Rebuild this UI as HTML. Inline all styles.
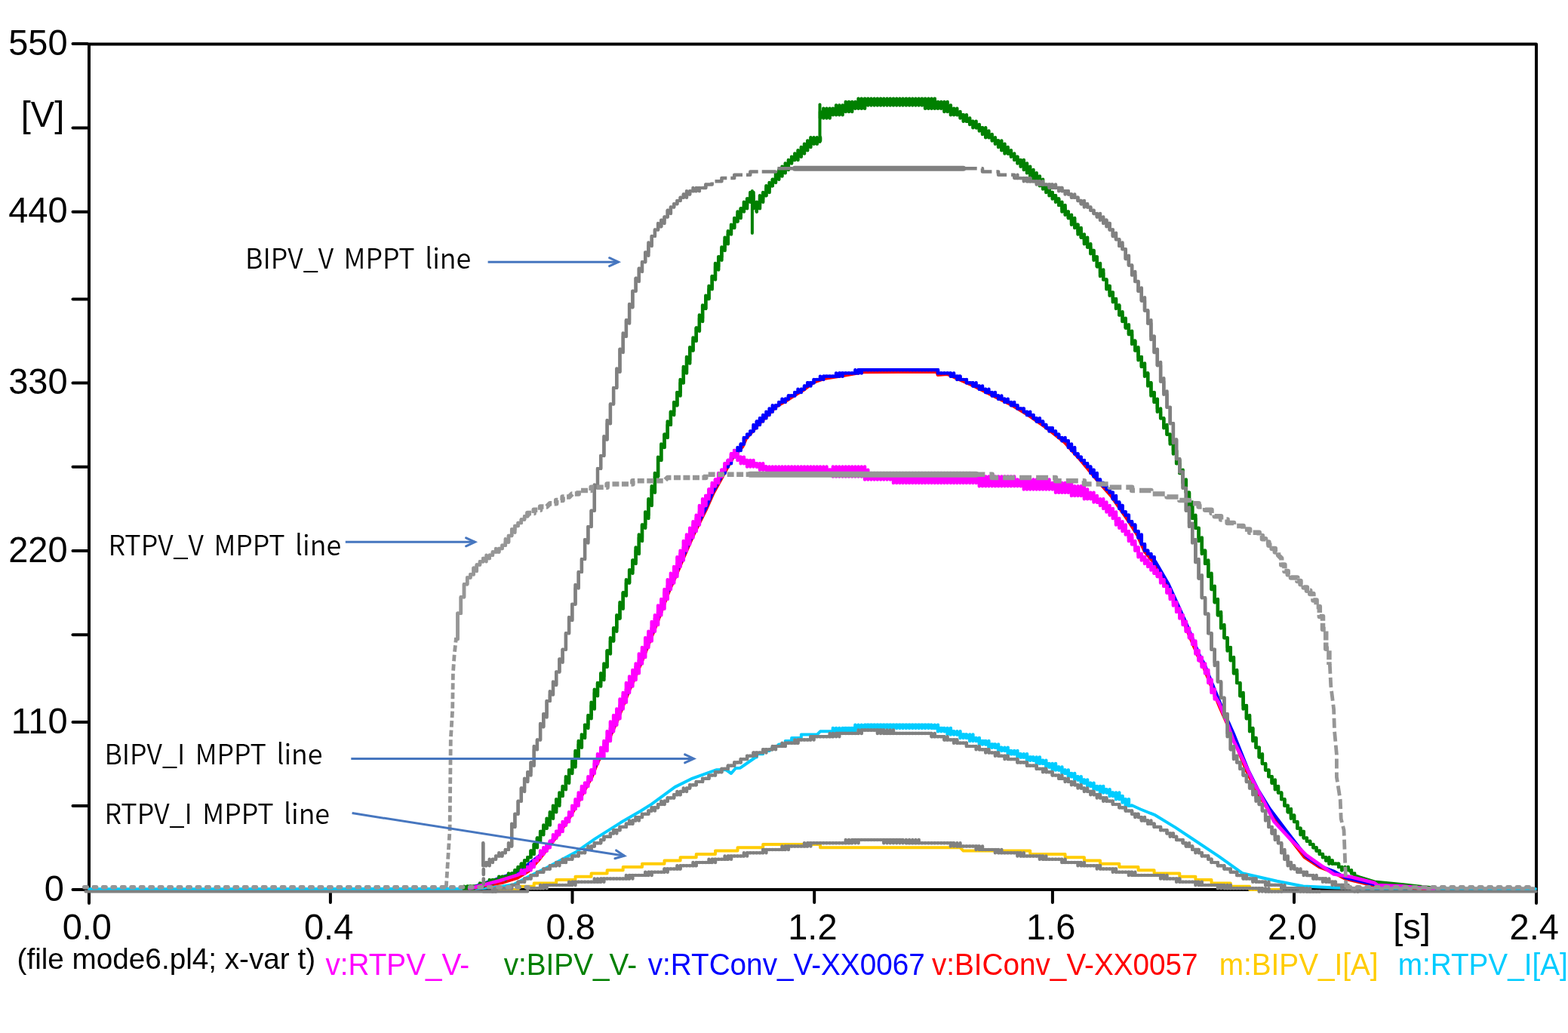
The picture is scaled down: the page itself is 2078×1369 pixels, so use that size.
<!DOCTYPE html>
<html><head><meta charset="utf-8"><title>PlotXY</title>
<style>
html,body{margin:0;padding:0;background:#fff;width:2078px;height:1369px;overflow:hidden}
svg{position:absolute;left:0;top:0;display:block}
text{font-family:"Liberation Sans", Arial, sans-serif}
</style></head><body>
<svg width="2078" height="1369" viewBox="0 0 2078 1369">
<g fill="none">
<path d="M118,1197 V58.5 H2036 V1197" stroke="#000" stroke-width="4" stroke-linecap="round" stroke-linejoin="round"/><line x1="118" y1="1179" x2="2035.5" y2="1179" stroke="#000" stroke-width="4"/><line x1="96.5" y1="58.1" x2="116" y2="58.1" stroke="#000" stroke-width="4" stroke-linecap="round"/><line x1="96.5" y1="169.4" x2="116" y2="169.4" stroke="#000" stroke-width="4" stroke-linecap="round"/><line x1="96.5" y1="280.7" x2="116" y2="280.7" stroke="#000" stroke-width="4" stroke-linecap="round"/><line x1="96.5" y1="396.4" x2="116" y2="396.4" stroke="#000" stroke-width="4" stroke-linecap="round"/><line x1="96.5" y1="507.5" x2="116" y2="507.5" stroke="#000" stroke-width="4" stroke-linecap="round"/><line x1="96.5" y1="618.8" x2="116" y2="618.8" stroke="#000" stroke-width="4" stroke-linecap="round"/><line x1="96.5" y1="730.0" x2="116" y2="730.0" stroke="#000" stroke-width="4" stroke-linecap="round"/><line x1="96.5" y1="841.3" x2="116" y2="841.3" stroke="#000" stroke-width="4" stroke-linecap="round"/><line x1="96.5" y1="956.9" x2="116" y2="956.9" stroke="#000" stroke-width="4" stroke-linecap="round"/><line x1="96.5" y1="1068.0" x2="116" y2="1068.0" stroke="#000" stroke-width="4" stroke-linecap="round"/><line x1="96.5" y1="1179.0" x2="116" y2="1179.0" stroke="#000" stroke-width="4" stroke-linecap="round"/><line x1="437.9" y1="1181" x2="437.9" y2="1196" stroke="#000" stroke-width="4" stroke-linecap="round"/><line x1="758.5" y1="1181" x2="758.5" y2="1196" stroke="#000" stroke-width="4" stroke-linecap="round"/><line x1="1079.2" y1="1181" x2="1079.2" y2="1196" stroke="#000" stroke-width="4" stroke-linecap="round"/><line x1="1394.9" y1="1181" x2="1394.9" y2="1196" stroke="#000" stroke-width="4" stroke-linecap="round"/><line x1="1715.0" y1="1181" x2="1715.0" y2="1196" stroke="#000" stroke-width="4" stroke-linecap="round"/>
</g>
<g fill="none" stroke-linejoin="round" stroke-linecap="round">
<polyline points="118.0,1178.3 627.4,1178.0 641.6,1176.8 666.6,1174.5 681.1,1172.1 695.5,1164.4 724.4,1150.0 764.5,1128.4 788.6,1111.6 822.7,1090.1 848.7,1075.0 863.6,1065.6 894.3,1043.1 916.1,1032.2 949.8,1020.2 962.0,1020.0 969.0,1025.0 975.0,1018.0 981.1,1017.7 1000.0,1004.5" stroke="#00ccff" stroke-width="4" />
<polyline points="998.5,1003.5 1002.8,1003.5 1002.8,999.3 1011.2,999.3 1011.2,995.0 1019.6,995.0 1023.8,990.7 1028.0,990.7 1032.3,986.4 1040.7,986.4 1040.7,982.1 1049.1,982.1 1049.1,977.9 1061.8,977.9 1061.8,973.6 1082.8,973.6 1087.0,969.3 1116.6,969.3 1116.6,965.0 1146.1,965.0 1146.1,960.8 1234.6,960.8 1234.6,965.0 1251.4,965.0 1251.4,969.3 1264.1,969.3 1268.3,973.6 1280.9,973.6 1280.9,977.9 1293.6,977.9 1293.6,982.1 1306.2,982.1 1306.2,986.4 1318.9,986.4 1318.9,990.7 1327.3,990.7 1331.5,995.0 1339.9,995.0 1339.9,999.3 1352.6,999.3 1352.6,1003.5 1369.5,1003.5 1369.5,1007.8 1382.1,1007.8 1382.1,1012.1 1390.5,1012.1 1390.5,1016.4 1403.2,1016.4 1403.2,1020.6 1411.6,1020.6 1411.6,1024.9 1420.0,1024.9 1420.0,1029.2 1428.5,1029.2 1428.5,1033.5 1436.9,1033.5 1436.9,1037.8 1445.3,1037.8 1445.3,1042.0 1453.8,1042.0 1453.8,1046.3 1466.4,1046.3 1466.4,1050.6 1474.8,1050.6 1474.8,1054.9 1487.5,1054.9 1487.5,1059.2 1491.7,1059.2 1491.7,1063.4 1495.9,1063.4 1495.9,1067.7 1500.1,1067.7" stroke="#00ccff" stroke-width="4" />
<polyline points="1500.0,1067.3 1511.5,1072.5 1530.8,1080.2 1557.7,1096.6 1580.8,1112.0 1615.5,1135.1 1646.3,1157.2 1692.5,1167.8 1727.1,1174.5 1769.5,1176.5 1800.0,1177.5 2035.0,1178.0" stroke="#00ccff" stroke-width="4" />
<path d="M1103.9,965.0V969.3M1108.1,965.0V969.3M1112.3,965.0V969.3M1116.6,965.0V969.3M1120.8,965.0V969.3M1125.0,965.0V969.3M1129.2,965.0V969.3M1133.4,960.8V969.3M1137.6,960.8V965.0M1141.8,960.8V965.0M1146.1,960.8V965.0M1150.3,960.8V965.0M1154.5,960.8V965.0M1158.7,960.8V965.0M1162.9,960.8V965.0M1167.1,960.8V965.0M1171.3,960.8V965.0M1175.6,960.8V965.0M1179.8,960.8V965.0M1184.0,960.8V965.0M1188.2,960.8V965.0M1192.4,960.8V965.0M1196.6,960.8V965.0M1200.9,960.8V965.0M1205.1,960.8V965.0M1209.3,960.8V965.0M1213.5,960.8V965.0M1217.7,960.8V965.0M1221.9,960.8V965.0M1226.1,960.8V965.0M1230.4,960.8V965.0M1234.6,960.8V965.0M1238.8,960.8V965.0M1243.0,960.8V969.3M1247.2,965.0V969.3M1251.4,965.0V969.3M1255.6,965.0V973.6M1259.9,965.0V973.6M1264.1,969.3V973.6M1268.3,969.3V973.6M1272.5,969.3V977.9M1276.7,973.6V977.9M1280.9,973.6V977.9M1285.2,973.6V982.1M1289.4,973.6V982.1M1293.6,977.9V982.1M1297.8,977.9V986.4M1302.0,982.1V986.4M1306.2,982.1V986.4M1310.4,982.1V990.7M1314.7,986.4V990.7M1318.9,986.4V990.7M1323.1,986.4V995.0M1327.3,990.7V995.0M1331.5,990.7V995.0M1335.7,990.7V999.3M1339.9,995.0V999.3M1344.2,995.0V999.3M1348.4,995.0V1003.5M1352.6,999.3V1003.5M1356.8,999.3V1003.5M1361.0,999.3V1007.8M1365.2,1003.5V1007.8M1369.5,1003.5V1007.8M1373.7,1003.5V1012.1M1377.9,1003.5V1012.1M1382.1,1007.8V1012.1M1386.3,1007.8V1016.4M1390.5,1012.1V1016.4M1394.7,1012.1V1020.6M1399.0,1012.1V1020.6M1403.2,1016.4V1020.6M1407.4,1016.4V1024.9M1411.6,1020.6V1024.9M1415.8,1020.6V1029.2M1420.0,1024.9V1029.2M1424.2,1024.9V1033.5M1428.5,1029.2V1033.5M1432.7,1029.2V1037.8M1436.9,1033.5V1037.8M1441.1,1033.5V1042.0M1445.3,1037.8V1042.0M1449.5,1037.8V1046.3M1453.8,1042.0V1046.3M1458.0,1042.0V1050.6M1462.2,1042.0V1050.6M1466.4,1046.3V1050.6M1470.6,1046.3V1054.9M1474.8,1050.6V1054.9M1479.0,1050.6V1059.2M1483.3,1050.6V1059.2M1487.5,1054.9V1063.4M1491.7,1059.2V1067.7M1495.9,1059.2V1067.7" stroke="#00ccff" stroke-width="4.5"/>
<polyline points="661.3,1178.9 686.6,1178.9 686.6,1174.7 707.7,1174.7 707.7,1170.4 737.2,1170.4 737.2,1166.1 762.5,1166.1 762.5,1161.8 783.6,1161.8 783.6,1157.5 804.6,1157.5 804.6,1153.3 825.7,1153.3 825.7,1149.0 851.0,1149.0 851.0,1144.7 880.5,1144.7 880.5,1140.4 901.6,1140.4 901.6,1136.2 922.7,1136.2 922.7,1131.9 948.0,1131.9 948.0,1127.6 977.5,1127.6 977.5,1123.3 1011.2,1123.3 1011.2,1119.0 1087.0,1119.0 1087.0,1123.3 1272.5,1123.3 1276.7,1127.6 1365.2,1127.6 1365.2,1131.9 1411.6,1131.9 1411.6,1136.2 1436.9,1136.2 1436.9,1140.4 1458.0,1140.4 1458.0,1144.7 1483.3,1144.7 1483.3,1149.0 1508.5,1149.0 1508.5,1153.3 1529.6,1153.3 1529.6,1157.5 1563.3,1157.5 1563.3,1161.8 1584.4,1161.8 1584.4,1166.1 1605.5,1166.1 1605.5,1170.4 1630.8,1170.4 1630.8,1174.7 1656.1,1174.7 1656.1,1178.9 1698.2,1178.9" stroke="#ffcc00" stroke-width="4" />
<polyline points="630.0,1176.5 647.4,1173.1 666.6,1169.7 685.9,1163.5 700.3,1154.8 714.0,1140.0 728.5,1121.0 740.5,1105.0 752.5,1088.0 764.5,1067.0 774.5,1048.0 784.5,1030.0 791.5,1012.0 800.5,994.0 808.5,977.0 817.5,957.0 826.5,934.0 834.5,914.0 843.5,894.0 853.5,870.0 862.5,847.0 870.5,827.0 879.5,803.0 887.5,782.0 896.5,762.0 904.5,743.0 913.5,722.0 921.5,704.3 935.9,675.4 945.5,653.7 957.5,632.1 972.0,605.6 984.4,592.0 988.8,581.6 1005.6,562.3 1029.7,538.2 1040.5,532.2 1052.5,524.6 1064.5,517.3 1079.0,506.5 1093.4,501.7 1117.5,498.1 1144.0,493.3 1241.4,492.8 1242.6,496.9 1255.3,495.9 1268.5,501.9 1290.1,511.5 1314.2,523.6 1338.3,535.6 1362.3,550.0 1386.4,566.9 1410.5,586.1 1432.1,610.2 1456.2,639.1 1473.0,658.3 1494.7,689.6 1507.1,709.3 1516.7,730.9 1528.8,745.4 1545.6,774.2 1557.7,800.7 1569.7,827.2 1581.7,856.1 1588.0,871.0 1593.7,881.0 1603.4,905.6 1616.8,938.4 1632.2,973.0 1651.5,1021.1 1665.0,1048.1 1680.4,1073.1 1701.5,1101.0 1728.5,1136.0 1749.0,1149.5 1766.7,1156.1 1782.1,1164.6 1820.6,1173.8 1870.6,1176.9 1889.0,1178.5" stroke="#ff0000" stroke-width="4" />
<polyline points="618.0,1177.5 627.0,1175.4 660.0,1164.6 683.2,1156.6 697.0,1148.0 704.0,1142.3 714.0,1135.0 728.0,1119.0 740.0,1103.0 752.0,1086.0 764.0,1065.0 774.0,1046.0 784.0,1028.0 791.0,1010.0 800.0,992.0 808.0,975.0 817.0,955.0 826.0,932.0 834.0,912.0 843.0,892.0 853.0,868.0 862.0,845.0 870.0,825.0 879.0,801.0 887.0,780.0 896.0,760.0 904.0,741.0 913.0,720.0 921.0,702.3 935.4,673.4 945.0,651.7 957.0,630.1 960.0,624.6" stroke="#0000ff" stroke-width="4.2" />
<polyline points="960.6,622.8 960.6,618.5 964.8,618.5 964.8,614.2 969.0,610.0 969.0,605.7 973.2,605.7 973.2,601.4 981.7,592.9 981.7,588.6 985.9,588.6 985.9,580.0 990.1,580.0 990.1,575.7 994.3,575.7 994.3,571.5 998.5,571.5 998.5,567.2 1002.8,567.2 1002.8,558.6 1007.0,558.6 1007.0,554.3 1011.2,554.3 1028.0,537.2 1032.3,537.2 1032.3,533.0 1036.5,533.0 1040.7,528.7 1044.9,528.7 1044.9,524.4 1053.3,524.4 1053.3,520.1 1057.5,520.1 1061.8,515.8 1066.0,515.8 1066.0,511.6 1070.2,511.6 1070.2,507.3 1078.6,507.3 1078.6,503.0 1087.0,503.0 1091.3,498.7 1112.3,498.7 1112.3,494.5 1137.6,494.5 1137.6,490.2 1243.0,490.2 1243.0,494.5 1259.9,494.5 1259.9,498.7 1272.5,498.7 1272.5,503.0 1280.9,503.0 1280.9,507.3 1289.4,507.3 1289.4,511.6 1297.8,511.6 1297.8,515.8 1306.2,515.8 1306.2,520.1 1314.7,520.1 1314.7,524.4 1323.1,524.4 1323.1,528.7 1331.5,528.7 1331.5,533.0 1339.9,533.0 1339.9,537.2 1348.4,537.2 1348.4,541.5 1356.8,541.5 1356.8,545.8 1361.0,545.8 1361.0,550.1 1369.5,550.1 1369.5,554.3 1373.7,554.3 1373.7,558.6 1382.1,558.6 1382.1,562.9 1386.3,562.9 1386.3,567.2 1394.7,567.2 1394.7,571.5 1399.0,571.5 1399.0,575.7 1403.2,575.7 1403.2,580.0 1407.4,580.0 1411.6,584.3 1415.8,584.3 1415.8,588.6 1420.0,592.9 1420.0,597.1 1424.2,597.1 1424.2,601.4 1428.5,601.4 1428.5,605.7 1432.7,605.7 1432.7,610.0 1436.9,610.0 1436.9,614.2 1441.1,614.2 1441.1,618.5 1445.3,618.5 1445.3,622.8 1449.5,622.8 1449.5,631.4 1453.8,631.4 1453.8,635.6 1458.0,635.6 1458.0,639.9 1462.2,639.9 1462.2,644.2 1466.4,644.2 1466.4,648.5 1470.6,648.5 1470.6,652.7 1474.8,652.7 1474.8,661.3 1479.0,661.3 1479.0,665.6 1483.3,665.6 1483.3,669.9 1487.5,669.9 1487.5,678.4 1491.7,678.4 1491.7,682.7 1495.9,682.7 1495.9,691.2 1500.1,691.2 1500.1,695.5 1504.3,695.5 1504.3,704.1 1508.5,704.1 1508.5,712.6 1512.8,712.6 1512.8,721.2 1517.0,721.2 1517.0,729.7 1521.2,729.7 1521.2,734.0 1525.4,734.0 1525.4,738.3 1529.6,738.3 1529.6,742.6" stroke="#0000ff" stroke-width="4.2" />
<polyline points="1530.0,742.8 1531.3,744.4 1548.1,773.2 1560.2,799.7 1572.2,826.2 1584.2,855.1 1590.5,870.0 1596.2,880.0 1605.9,904.6 1619.3,937.4 1634.7,972.0 1654.0,1020.1 1667.5,1047.1 1682.9,1072.1 1704.0,1100.0 1731.0,1135.0 1750.0,1148.0 1767.7,1154.6 1783.1,1163.1 1821.6,1172.3 1871.6,1175.4 1890.0,1177.0" stroke="#0000ff" stroke-width="4.2" />
<path d="M960.6,618.5V627.1M964.8,610.0V618.5M969.0,605.7V614.2M973.2,597.1V605.7M977.5,592.9V601.4M981.7,588.6V597.1M985.9,580.0V588.6M990.1,575.7V580.0M994.3,571.5V575.7M998.5,562.9V571.5M1002.8,558.6V567.2M1007.0,554.3V562.9M1011.2,550.1V558.6M1015.4,545.8V554.3M1019.6,541.5V550.1M1023.8,537.2V545.8M1028.0,537.2V541.5M1032.3,533.0V537.2M1036.5,528.7V533.0M1040.7,528.7V533.0M1044.9,524.4V528.7M1049.1,524.4V524.4M1053.3,520.1V524.4M1057.5,515.8V520.1M1061.8,515.8V520.1M1066.0,511.6V515.8M1070.2,507.3V511.6M1074.4,507.3V511.6M1078.6,503.0V507.3M1082.8,503.0V503.0M1087.0,498.7V503.0M1091.3,498.7V503.0M1095.5,498.7V498.7M1099.7,498.7V498.7M1103.9,498.7V498.7M1108.1,494.5V498.7M1112.3,494.5V498.7M1116.6,494.5V498.7M1120.8,494.5V494.5M1125.0,494.5V494.5M1129.2,494.5V494.5M1133.4,490.2V494.5M1137.6,490.2V494.5M1141.8,490.2V494.5M1146.1,490.2V490.2M1150.3,490.2V490.2M1154.5,490.2V490.2M1158.7,490.2V490.2M1162.9,490.2V490.2M1167.1,490.2V490.2M1171.3,490.2V490.2M1175.6,490.2V490.2M1179.8,490.2V490.2M1184.0,490.2V490.2M1188.2,490.2V490.2M1192.4,490.2V490.2M1196.6,490.2V490.2M1200.9,490.2V490.2M1205.1,490.2V490.2M1209.3,490.2V490.2M1213.5,490.2V490.2M1217.7,490.2V490.2M1221.9,490.2V490.2M1226.1,490.2V490.2M1230.4,490.2V490.2M1234.6,490.2V490.2M1238.8,490.2V490.2M1243.0,490.2V494.5M1247.2,494.5V494.5M1251.4,494.5V494.5M1255.6,494.5V494.5M1259.9,494.5V498.7M1264.1,494.5V498.7M1268.3,498.7V503.0M1272.5,498.7V503.0M1276.7,503.0V503.0M1280.9,503.0V507.3M1285.2,507.3V507.3M1289.4,507.3V511.6M1293.6,507.3V511.6M1297.8,511.6V515.8M1302.0,511.6V515.8M1306.2,515.8V520.1M1310.4,515.8V520.1M1314.7,520.1V524.4M1318.9,520.1V524.4M1323.1,524.4V528.7M1327.3,524.4V528.7M1331.5,528.7V533.0M1335.7,528.7V533.0M1339.9,533.0V537.2M1344.2,533.0V537.2M1348.4,537.2V541.5M1352.6,541.5V541.5M1356.8,541.5V545.8M1361.0,545.8V550.1M1365.2,545.8V550.1M1369.5,550.1V554.3M1373.7,554.3V558.6M1377.9,554.3V558.6M1382.1,558.6V562.9M1386.3,562.9V567.2M1390.5,567.2V571.5M1394.7,567.2V571.5M1399.0,571.5V575.7M1403.2,575.7V580.0M1407.4,580.0V584.3M1411.6,580.0V584.3M1415.8,584.3V592.9M1420.0,588.6V597.1M1424.2,592.9V601.4M1428.5,601.4V605.7M1432.7,605.7V610.0M1436.9,610.0V614.2M1441.1,614.2V618.5M1445.3,618.5V627.1M1449.5,622.8V631.4M1453.8,627.1V635.6M1458.0,635.6V639.9M1462.2,639.9V644.2M1466.4,644.2V648.5M1470.6,648.5V652.7M1474.8,652.7V661.3M1479.0,657.0V665.6M1483.3,665.6V674.1M1487.5,669.9V678.4M1491.7,678.4V682.7M1495.9,682.7V691.2M1500.1,691.2V695.5M1504.3,695.5V704.1M1508.5,704.1V712.6M1512.8,708.4V721.2M1517.0,721.2V729.7M1521.2,729.7V734.0M1525.4,734.0V738.3M1529.6,738.3V746.9" stroke="#0000ff" stroke-width="4.5"/>
<polyline points="615.0,1178.9 619.2,1178.9 619.2,1174.7 640.3,1174.7 640.3,1170.4 652.9,1170.4 652.9,1166.1 665.5,1166.1 665.5,1161.8 674.0,1161.8 678.2,1157.5 682.4,1157.5 682.4,1153.3 686.6,1153.3 686.6,1149.0 690.8,1149.0 690.8,1144.7 695.1,1144.7 695.1,1140.4 699.3,1140.4 699.3,1136.2 703.5,1136.2 703.5,1127.6 707.7,1127.6 707.7,1119.0 711.9,1119.0 711.9,1110.5 716.1,1110.5 716.1,1101.9 720.3,1101.9 720.3,1097.7 724.6,1097.7 724.6,1089.1 728.8,1089.1 728.8,1080.5 733.0,1080.5 733.0,1072.0 737.2,1072.0 737.2,1063.4 741.4,1063.4 741.4,1054.9 745.6,1054.9 745.6,1046.3 749.9,1042.0 749.9,1033.5 754.1,1033.5 754.1,1020.6 758.3,1020.6 758.3,1012.1 762.5,1012.1 762.5,999.3 766.7,999.3 766.7,986.4 770.9,986.4 770.9,977.9 775.1,973.6 775.1,960.8 779.4,960.8 779.4,952.2 783.6,947.9 783.6,935.1 787.8,935.1 787.8,918.0 792.0,918.0 792.0,905.1 796.2,905.1 796.2,896.6 800.4,896.6 800.4,883.8 804.6,883.8 804.6,862.4 808.9,862.4 808.9,849.5 813.1,849.5 813.1,832.4 817.3,832.4 817.3,819.6 821.5,819.6 821.5,802.5 825.7,802.5 825.7,785.4 829.9,785.4 829.9,772.5 834.1,772.5 834.1,755.4 838.4,755.4 838.4,742.6 842.6,742.6 842.6,729.7 846.8,729.7 846.8,712.6 851.0,712.6 851.0,695.5 855.2,695.5 855.2,682.7 859.4,682.7 859.4,665.6 863.7,665.6 863.7,648.5 867.9,648.5 867.9,631.4 872.1,631.4 872.1,610.0 876.3,610.0 876.3,592.9 880.5,592.9 880.5,575.7 884.7,575.7 884.7,562.9 888.9,562.9 888.9,545.8 893.2,545.8 893.2,537.2 897.4,537.2 897.4,520.1 901.6,520.1 901.6,507.3 905.8,507.3 905.8,490.2 910.0,490.2 910.0,477.3 914.2,477.3 914.2,464.5 918.5,464.5 918.5,451.7 922.7,451.7 922.7,434.6 926.9,434.6 926.9,421.7 931.1,421.7 931.1,408.9 935.3,408.9 935.3,396.1 939.5,396.1 939.5,383.2 943.7,378.9 943.7,366.1 948.0,366.1 948.0,353.3 952.2,353.3 952.2,340.4 956.4,340.4 956.4,331.9 960.6,327.6 960.6,319.1 964.8,319.1 964.8,310.5 969.0,306.2 969.0,301.9 973.2,301.9 973.2,293.4 977.5,293.4 977.5,284.8 981.7,284.8 981.7,276.3 985.9,276.3 985.9,272.0 990.1,272.0 990.1,263.4 994.3,263.4 994.3,259.2 998.5,259.2 998.5,272.0 1002.8,272.0 1002.8,280.6 1002.8,272.0 1007.0,272.0 1007.0,263.4 1011.2,263.4 1011.2,259.2 1015.4,259.2 1015.4,250.6 1019.6,250.6 1019.6,246.3 1023.8,246.3 1023.8,237.8 1028.0,237.8 1028.0,233.5 1032.3,233.5 1032.3,229.2 1036.5,229.2 1036.5,224.9 1040.7,224.9 1040.7,220.7 1044.9,220.7 1044.9,216.4 1049.1,212.1 1053.3,212.1 1053.3,207.8 1057.5,207.8 1057.5,203.6 1061.8,203.6 1061.8,199.3 1066.0,199.3 1066.0,195.0 1070.2,195.0 1070.2,190.7 1074.4,190.7 1074.4,186.4 1087.0,186.4 1087.0,182.2" stroke="#008000" stroke-width="4.2" />
<path d="M615.0,1174.7V1178.9M619.2,1174.7V1178.9M623.4,1174.7V1178.9M627.6,1174.7V1178.9M631.8,1174.7V1174.7M636.0,1170.4V1174.7M640.3,1170.4V1174.7M644.5,1170.4V1170.4M648.7,1166.1V1170.4M652.9,1166.1V1170.4M657.1,1166.1V1166.1M661.3,1161.8V1166.1M665.5,1161.8V1166.1M669.8,1161.8V1166.1M674.0,1157.5V1161.8M678.2,1157.5V1161.8M682.4,1153.3V1157.5M686.6,1149.0V1153.3M690.8,1144.7V1149.0M695.1,1140.4V1149.0M699.3,1136.2V1140.4M703.5,1127.6V1136.2M707.7,1119.0V1131.9M711.9,1110.5V1123.3M716.1,1101.9V1114.8M720.3,1093.4V1106.2M724.6,1084.8V1097.7M728.8,1076.3V1093.4M733.0,1067.7V1084.8M737.2,1059.2V1076.3M741.4,1050.6V1067.7M745.6,1042.0V1054.9M749.9,1029.2V1046.3M754.1,1020.6V1037.8M758.3,1007.8V1024.9M762.5,995.0V1016.4M766.7,982.1V1003.5M770.9,973.6V990.7M775.1,960.8V977.9M779.4,947.9V965.0M783.6,930.8V952.2M787.8,913.7V939.4M792.0,905.1V922.3M796.2,892.3V909.4M800.4,879.5V900.9M804.6,862.4V883.8M808.9,845.3V866.6M813.1,832.4V849.5M817.3,815.3V836.7M821.5,798.2V819.6M825.7,785.4V806.8M829.9,768.2V789.6M834.1,755.4V772.5M838.4,742.6V759.7M842.6,725.5V746.9M846.8,708.4V734.0M851.0,695.5V716.9M855.2,678.4V699.8M859.4,661.3V687.0M863.7,644.2V669.9M867.9,627.1V652.7M872.1,605.7V631.4M876.3,588.6V610.0M880.5,575.7V592.9M884.7,558.6V580.0M888.9,545.8V562.9M893.2,533.0V550.1M897.4,520.1V537.2M901.6,503.0V524.4M905.8,485.9V507.3M910.0,473.1V494.5M914.2,460.2V481.6M918.5,447.4V464.5M922.7,434.6V451.7M926.9,417.5V438.8M931.1,404.6V426.0M935.3,391.8V408.9M939.5,378.9V396.1M943.7,366.1V383.2M948.0,349.0V370.4M952.2,340.4V357.6M956.4,327.6V344.7M960.6,314.8V331.9M964.8,306.2V323.3M969.0,297.7V310.5M973.2,289.1V301.9M977.5,280.6V293.4M981.7,276.3V289.1M985.9,267.7V280.6M990.1,263.4V276.3M994.3,254.9V267.7M998.5,254.9V276.3M1002.8,267.7V280.6M1007.0,259.2V276.3M1011.2,254.9V267.7M1015.4,246.3V259.2M1019.6,242.1V254.9M1023.8,237.8V246.3M1028.0,229.2V242.1M1032.3,224.9V237.8M1036.5,220.7V233.5M1040.7,216.4V229.2M1044.9,212.1V224.9M1049.1,207.8V216.4M1053.3,203.6V212.1M1057.5,199.3V212.1M1061.8,195.0V207.8M1066.0,190.7V203.6M1070.2,186.4V199.3M1074.4,182.2V195.0M1078.6,182.2V190.7M1082.8,182.2V190.7M1087.0,182.2V186.4" stroke="#008000" stroke-width="4.5"/>
<polyline points="1087.0,152.2 1095.5,152.2 1095.5,147.9 1112.3,147.9 1112.3,143.7 1125.0,143.7 1125.0,139.4 1141.8,139.4 1141.8,135.1 1234.6,135.1 1234.6,139.4 1251.4,139.4 1251.4,143.7 1259.9,143.7 1259.9,147.9 1268.3,147.9 1268.3,152.2 1276.7,152.2 1276.7,156.5 1280.9,156.5 1280.9,160.8 1289.4,160.8 1289.4,165.0 1293.6,165.0 1293.6,169.3 1302.0,169.3 1302.0,173.6 1306.2,173.6 1306.2,177.9 1310.4,177.9 1310.4,182.2 1314.7,182.2 1318.9,186.4 1323.1,186.4 1323.1,190.7 1327.3,190.7 1327.3,195.0 1331.5,195.0 1331.5,199.3 1335.7,199.3 1335.7,203.6 1339.9,203.6 1344.2,207.8 1348.4,207.8 1348.4,212.1 1352.6,212.1 1352.6,216.4 1356.8,216.4 1356.8,220.7 1361.0,220.7 1361.0,224.9 1365.2,224.9 1365.2,229.2 1369.5,229.2 1369.5,233.5 1373.7,233.5 1373.7,237.8 1377.9,237.8 1377.9,242.1 1382.1,242.1 1382.1,246.3 1386.3,246.3 1386.3,250.6 1390.5,250.6 1390.5,254.9 1394.7,254.9 1394.7,259.2 1399.0,259.2 1399.0,263.4 1403.2,263.4 1403.2,272.0 1407.4,272.0 1407.4,276.3 1411.6,276.3 1411.6,280.6 1415.8,280.6 1415.8,289.1 1420.0,289.1 1420.0,293.4 1424.2,293.4 1424.2,297.7 1428.5,297.7 1428.5,306.2 1432.7,306.2 1432.7,314.8 1436.9,314.8 1436.9,319.1 1441.1,319.1 1441.1,327.6 1445.3,327.6 1445.3,331.9 1449.5,331.9 1449.5,340.4 1453.8,340.4 1453.8,353.3 1458.0,353.3 1458.0,361.8 1462.2,361.8 1462.2,370.4 1466.4,370.4 1466.4,378.9 1470.6,378.9 1470.6,387.5 1474.8,387.5 1474.8,396.1 1479.0,396.1 1479.0,404.6 1483.3,404.6 1483.3,417.5 1487.5,417.5 1487.5,426.0 1491.7,426.0 1491.7,434.6 1495.9,434.6 1495.9,443.1 1500.1,443.1 1500.1,451.7 1504.3,451.7 1504.3,464.5 1508.5,464.5 1508.5,473.1 1512.8,473.1 1512.8,485.9 1517.0,485.9 1517.0,494.5 1521.2,494.5 1521.2,507.3 1525.4,507.3 1525.4,520.1 1529.6,520.1 1529.6,533.0 1533.8,533.0 1533.8,541.5 1538.1,545.8 1538.1,554.3 1542.3,554.3 1542.3,562.9 1546.5,567.2 1546.5,575.7 1550.7,575.7 1550.7,584.3 1554.9,588.6 1554.9,597.1 1559.1,597.1 1559.1,614.2 1563.3,614.2 1563.3,627.1 1567.6,627.1 1567.6,639.9 1571.8,639.9 1571.8,652.7 1576.0,652.7 1576.0,669.9 1580.2,669.9 1580.2,687.0 1584.4,687.0 1584.4,699.8 1588.6,699.8 1588.6,712.6 1592.8,716.9 1592.8,729.7 1597.1,729.7 1597.1,746.9 1601.3,746.9 1601.3,764.0 1605.5,764.0 1605.5,781.1 1609.7,781.1 1609.7,798.2 1613.9,798.2 1613.9,815.3 1618.1,815.3 1618.1,828.1 1622.4,832.4 1622.4,845.3 1626.6,845.3 1626.6,858.1 1630.8,858.1 1630.8,875.2 1635.0,875.2 1635.0,892.3 1639.2,892.3 1639.2,905.1 1643.4,905.1 1643.4,922.3 1647.6,922.3 1647.6,935.1 1651.9,935.1 1651.9,952.2 1656.1,952.2 1656.1,965.0 1660.3,965.0 1660.3,977.9 1664.5,977.9 1664.5,990.7 1668.7,990.7 1668.7,1003.5 1672.9,1003.5 1672.9,1012.1 1677.1,1012.1 1677.1,1020.6 1681.4,1020.6 1681.4,1029.2 1685.6,1029.2 1685.6,1037.8 1689.8,1037.8 1689.8,1042.0 1694.0,1042.0 1694.0,1050.6 1698.2,1050.6 1698.2,1059.2 1702.4,1059.2 1702.4,1067.7 1706.7,1067.7 1706.7,1076.3 1710.9,1076.3 1710.9,1080.5 1715.1,1080.5 1715.1,1089.1 1719.3,1089.1 1719.3,1097.7 1723.5,1097.7 1723.5,1101.9 1727.7,1101.9 1727.7,1110.5 1731.9,1110.5 1731.9,1114.8 1736.2,1114.8 1736.2,1119.0 1740.4,1119.0 1740.4,1123.3 1744.6,1123.3 1744.6,1127.6 1748.8,1127.6 1748.8,1131.9 1753.0,1131.9 1753.0,1136.2 1757.2,1136.2 1757.2,1140.4 1765.7,1140.4 1765.7,1144.7 1774.1,1144.7 1774.1,1149.0 1778.3,1149.0 1778.3,1153.3" stroke="#008000" stroke-width="4.2" />
<polyline points="1780.0,1151.7 1786.9,1152.3 1796.2,1160.8 1821.6,1168.5 1860.0,1172.3 1880.0,1174.5 1895.0,1176.0" stroke="#008000" stroke-width="4.2" />
<path d="M1087.0,147.9V156.5M1091.3,143.7V156.5M1095.5,143.7V156.5M1099.7,143.7V156.5M1103.9,143.7V152.2M1108.1,139.4V152.2M1112.3,139.4V152.2M1116.6,139.4V152.2M1120.8,135.1V147.9M1125.0,135.1V147.9M1129.2,135.1V147.9M1133.4,135.1V143.7M1137.6,130.8V143.7M1141.8,130.8V143.7M1146.1,130.8V143.7M1150.3,130.8V139.4M1154.5,130.8V139.4M1158.7,130.8V139.4M1162.9,130.8V139.4M1167.1,130.8V139.4M1171.3,130.8V139.4M1175.6,130.8V139.4M1179.8,130.8V139.4M1184.0,130.8V139.4M1188.2,130.8V139.4M1192.4,130.8V139.4M1196.6,130.8V139.4M1200.9,130.8V139.4M1205.1,130.8V139.4M1209.3,130.8V139.4M1213.5,130.8V139.4M1217.7,130.8V139.4M1221.9,130.8V139.4M1226.1,130.8V143.7M1230.4,130.8V143.7M1234.6,130.8V143.7M1238.8,130.8V143.7M1243.0,135.1V143.7M1247.2,135.1V143.7M1251.4,135.1V147.9M1255.6,135.1V147.9M1259.9,139.4V152.2M1264.1,143.7V152.2M1268.3,143.7V152.2M1272.5,147.9V156.5M1276.7,152.2V160.8M1280.9,152.2V160.8M1285.2,156.5V165.0M1289.4,160.8V169.3M1293.6,160.8V169.3M1297.8,165.0V173.6M1302.0,169.3V177.9M1306.2,169.3V182.2M1310.4,173.6V182.2M1314.7,177.9V186.4M1318.9,182.2V190.7M1323.1,186.4V195.0M1327.3,186.4V199.3M1331.5,190.7V203.6M1335.7,195.0V203.6M1339.9,199.3V207.8M1344.2,203.6V212.1M1348.4,207.8V216.4M1352.6,212.1V220.7M1356.8,212.1V224.9M1361.0,216.4V229.2M1365.2,220.7V233.5M1369.5,224.9V237.8M1373.7,229.2V242.1M1377.9,233.5V246.3M1382.1,237.8V250.6M1386.3,246.3V254.9M1390.5,250.6V259.2M1394.7,254.9V263.4M1399.0,259.2V267.7M1403.2,263.4V272.0M1407.4,267.7V280.6M1411.6,272.0V284.8M1415.8,280.6V289.1M1420.0,284.8V297.7M1424.2,289.1V301.9M1428.5,297.7V310.5M1432.7,301.9V314.8M1436.9,310.5V323.3M1441.1,314.8V327.6M1445.3,323.3V336.2M1449.5,331.9V344.7M1453.8,340.4V353.3M1458.0,349.0V366.1M1462.2,357.6V370.4M1466.4,370.4V383.2M1470.6,378.9V391.8M1474.8,387.5V400.3M1479.0,396.1V408.9M1483.3,404.6V417.5M1487.5,413.2V426.0M1491.7,421.7V434.6M1495.9,430.3V443.1M1500.1,438.8V456.0M1504.3,451.7V464.5M1508.5,460.2V477.3M1512.8,473.1V485.9M1517.0,481.6V498.7M1521.2,494.5V511.6M1525.4,507.3V524.4M1529.6,520.1V533.0M1533.8,528.7V545.8M1538.1,541.5V554.3M1542.3,554.3V567.2M1546.5,562.9V575.7M1550.7,575.7V588.6M1554.9,584.3V601.4M1559.1,597.1V614.2M1563.3,610.0V627.1M1567.6,622.8V639.9M1571.8,635.6V652.7M1576.0,652.7V669.9M1580.2,665.6V687.0M1584.4,682.7V699.8M1588.6,699.8V716.9M1592.8,712.6V734.0M1597.1,729.7V746.9M1601.3,742.6V764.0M1605.5,759.7V781.1M1609.7,776.8V798.2M1613.9,793.9V815.3M1618.1,811.0V832.4M1622.4,828.1V845.3M1626.6,845.3V862.4M1630.8,858.1V875.2M1635.0,870.9V892.3M1639.2,888.0V905.1M1643.4,905.1V922.3M1647.6,918.0V939.4M1651.9,935.1V952.2M1656.1,947.9V969.3M1660.3,965.0V982.1M1664.5,977.9V990.7M1668.7,990.7V1003.5M1672.9,999.3V1012.1M1677.1,1012.1V1020.6M1681.4,1020.6V1029.2M1685.6,1029.2V1037.8M1689.8,1033.5V1046.3M1694.0,1042.0V1050.6M1698.2,1050.6V1059.2M1702.4,1059.2V1067.7M1706.7,1067.7V1076.3M1710.9,1072.0V1084.8M1715.1,1080.5V1089.1M1719.3,1089.1V1097.7M1723.5,1097.7V1106.2M1727.7,1101.9V1110.5M1731.9,1110.5V1114.8M1736.2,1114.8V1119.0M1740.4,1119.0V1123.3M1744.6,1123.3V1127.6M1748.8,1127.6V1131.9M1753.0,1131.9V1136.2M1757.2,1136.2V1140.4M1761.4,1136.2V1144.7M1765.7,1140.4V1144.7M1769.9,1144.7V1144.7M1774.1,1144.7V1149.0M1778.3,1149.0V1153.3M1782.5,1149.0V1153.3M1786.7,1149.0V1153.3M1791.0,1153.3V1157.5M1795.2,1157.5V1161.8M1799.4,1161.8V1161.8" stroke="#008000" stroke-width="4.5"/>
<polyline points="1086.5,188.0 1086.5,138.5" stroke="#008000" stroke-width="4" />
<polyline points="996.9,309.0 996.9,253.0" stroke="#008000" stroke-width="4" />
<polyline points="622.0,1177.5 628.1,1176.0 661.8,1167.3 685.9,1159.6 690.0,1157.4" stroke="#ff00ff" stroke-width="4.6" />
<polyline points="690.8,1157.5 695.1,1157.5 695.1,1153.3 699.3,1153.3 699.3,1149.0 703.5,1149.0 703.5,1144.7 707.7,1144.7 707.7,1140.4 711.9,1140.4 711.9,1136.2 716.1,1136.2 716.1,1131.9 720.3,1131.9 720.3,1127.6 724.6,1127.6 724.6,1119.0 728.8,1119.0 728.8,1114.8 733.0,1114.8 733.0,1110.5 737.2,1110.5 737.2,1101.9 741.4,1101.9 741.4,1097.7 745.6,1097.7 745.6,1093.4 749.9,1093.4 749.9,1084.8 754.1,1084.8 754.1,1080.5 758.3,1076.3 758.3,1072.0 762.5,1072.0 762.5,1063.4 766.7,1063.4 766.7,1054.9 770.9,1054.9 770.9,1046.3 775.1,1046.3 775.1,1037.8 779.4,1037.8 779.4,1033.5 783.6,1029.2 783.6,1020.6 787.8,1020.6 787.8,1012.1 792.0,1012.1 792.0,1003.5 796.2,1003.5 796.2,995.0 800.4,995.0 800.4,986.4 804.6,986.4 804.6,977.9 808.9,977.9 808.9,965.0 813.1,965.0 813.1,956.5 817.3,956.5 817.3,943.6 821.5,943.6 821.5,935.1 825.7,935.1 825.7,922.3 829.9,922.3 829.9,913.7 834.1,909.4 834.1,905.1 838.4,900.9 838.4,896.6 842.6,892.3 842.6,883.8 846.8,883.8 846.8,875.2 851.0,875.2 851.0,862.4 855.2,862.4 855.2,853.8 859.4,853.8 859.4,841.0 863.7,841.0 863.7,832.4 867.9,832.4 867.9,819.6 872.1,819.6 872.1,811.0 876.3,811.0 876.3,798.2 880.5,798.2 880.5,785.4 884.7,785.4 884.7,776.8 888.9,776.8 888.9,768.2 893.2,768.2 893.2,759.7 897.4,759.7 897.4,746.9 901.6,746.9 901.6,734.0 905.8,734.0 905.8,725.5 910.0,725.5 910.0,712.6 914.2,712.6 914.2,704.1 918.5,704.1 918.5,695.5 922.7,695.5 922.7,687.0 926.9,687.0 926.9,678.4 931.1,678.4 931.1,669.9 935.3,669.9 935.3,657.0 939.5,657.0 939.5,648.5 943.7,648.5 943.7,644.2 948.0,644.2 948.0,635.6 952.2,635.6 952.2,631.4 956.4,631.4 956.4,622.8 960.6,622.8 960.6,614.2 964.8,614.2 964.8,610.0 969.0,610.0 969.0,601.4 977.5,601.4 977.5,605.7 981.7,605.7 981.7,610.0 990.1,610.0 990.1,614.2 1002.8,614.2 1002.8,618.5 1015.4,618.5 1015.4,622.8 1129.2,622.8 1129.2,627.1 1150.3,627.1 1150.3,631.4 1243.0,631.4 1243.0,635.6 1318.9,635.6 1323.1,639.9 1377.9,639.9 1377.9,644.2 1411.6,644.2 1411.6,648.5 1428.5,648.5 1428.5,652.7 1441.1,652.7 1441.1,657.0 1449.5,657.0 1449.5,661.3 1453.8,661.3 1453.8,665.6 1462.2,665.6 1462.2,669.9 1466.4,669.9 1466.4,674.1 1470.6,674.1 1470.6,678.4 1474.8,678.4 1474.8,682.7 1479.0,682.7 1479.0,691.2 1483.3,691.2 1483.3,695.5 1487.5,695.5 1487.5,699.8 1491.7,699.8 1491.7,704.1 1495.9,708.4 1495.9,712.6 1500.1,712.6 1500.1,721.2 1504.3,721.2 1504.3,725.5 1508.5,725.5 1508.5,734.0 1512.8,734.0 1512.8,738.3 1517.0,738.3 1517.0,742.6 1521.2,742.6 1521.2,746.9 1525.4,746.9 1525.4,751.1 1529.6,755.4 1529.6,759.7 1533.8,759.7 1533.8,764.0 1538.1,764.0 1538.1,768.2 1542.3,768.2 1542.3,776.8 1546.5,776.8 1546.5,785.4 1550.7,785.4 1550.7,789.6 1554.9,789.6 1554.9,798.2 1559.1,798.2 1559.1,806.8 1563.3,806.8 1563.3,815.3 1567.6,815.3 1567.6,823.9 1571.8,823.9 1571.8,836.7 1576.0,836.7 1576.0,845.3 1580.2,845.3 1580.2,853.8 1584.4,853.8 1584.4,862.4 1588.6,862.4 1588.6,875.2 1592.8,875.2 1592.8,883.8 1597.1,883.8 1597.1,892.3 1601.3,892.3 1601.3,900.9 1605.5,900.9 1605.5,913.7 1609.7,913.7 1609.7,922.3" stroke="#ff00ff" stroke-width="4.6" />
<polyline points="1610.0,922.5 1615.5,931.6 1625.1,954.7 1634.7,981.6 1646.3,1004.7 1659.8,1033.6 1673.2,1058.6 1688.6,1088.9 1711.7,1113.9 1731.0,1133.1 1750.2,1146.6 1767.7,1158.5 1790.8,1162.3 1821.6,1170.0 1825.4,1173.1 1860.0,1174.6 1900.0,1178.0" stroke="#ff00ff" stroke-width="4.6" />
<path d="M690.8,1153.3V1157.5M695.1,1153.3V1157.5M699.3,1149.0V1153.3M703.5,1144.7V1153.3M707.7,1140.4V1149.0M711.9,1136.2V1140.4M716.1,1127.6V1136.2M720.3,1123.3V1131.9M724.6,1119.0V1127.6M728.8,1114.8V1123.3M733.0,1106.2V1114.8M737.2,1101.9V1110.5M741.4,1093.4V1106.2M745.6,1089.1V1101.9M749.9,1084.8V1093.4M754.1,1076.3V1089.1M758.3,1067.7V1080.5M762.5,1059.2V1072.0M766.7,1050.6V1067.7M770.9,1042.0V1059.2M775.1,1037.8V1050.6M779.4,1029.2V1042.0M783.6,1020.6V1033.5M787.8,1007.8V1024.9M792.0,999.3V1012.1M796.2,990.7V1003.5M800.4,982.1V1003.5M804.6,969.3V995.0M808.9,956.5V982.1M813.1,947.9V969.3M817.3,939.4V960.8M821.5,926.5V952.2M825.7,918.0V939.4M829.9,905.1V930.8M834.1,896.6V918.0M838.4,888.0V909.4M842.6,879.5V900.9M846.8,866.6V892.3M851.0,858.1V879.5M855.2,845.3V870.9M859.4,836.7V858.1M863.7,823.9V849.5M867.9,815.3V836.7M872.1,802.5V828.1M876.3,793.9V815.3M880.5,781.1V806.8M884.7,768.2V793.9M888.9,759.7V781.1M893.2,751.1V772.5M897.4,738.3V764.0M901.6,729.7V751.1M905.8,716.9V742.6M910.0,708.4V729.7M914.2,699.8V721.2M918.5,691.2V712.6M922.7,682.7V704.1M926.9,669.9V695.5M931.1,661.3V682.7M935.3,657.0V669.9M939.5,648.5V661.3M943.7,639.9V652.7M948.0,635.6V644.2M952.2,627.1V639.9M956.4,622.8V631.4M960.6,614.2V622.8M964.8,610.0V614.2M969.0,601.4V610.0M973.2,597.1V605.7M977.5,601.4V610.0M981.7,605.7V614.2M985.9,605.7V614.2M990.1,610.0V618.5M994.3,610.0V618.5M998.5,610.0V618.5M1002.8,614.2V618.5M1007.0,614.2V622.8M1011.2,614.2V622.8M1015.4,618.5V622.8M1019.6,618.5V627.1M1023.8,618.5V627.1M1028.0,618.5V627.1M1032.3,618.5V622.8M1036.5,618.5V622.8M1040.7,618.5V622.8M1044.9,618.5V622.8M1049.1,618.5V622.8M1053.3,618.5V622.8M1057.5,618.5V622.8M1061.8,618.5V622.8M1066.0,618.5V622.8M1070.2,618.5V627.1M1074.4,618.5V627.1M1078.6,618.5V627.1M1082.8,618.5V627.1M1087.0,618.5V627.1M1091.3,618.5V627.1M1095.5,618.5V627.1M1099.7,622.8V627.1M1103.9,618.5V631.4M1108.1,618.5V631.4M1112.3,618.5V631.4M1116.6,618.5V631.4M1120.8,618.5V631.4M1125.0,618.5V631.4M1129.2,618.5V631.4M1133.4,618.5V631.4M1137.6,618.5V631.4M1141.8,618.5V631.4M1146.1,618.5V635.6M1150.3,622.8V635.6M1154.5,627.1V635.6M1158.7,627.1V635.6M1162.9,627.1V635.6M1167.1,627.1V635.6M1171.3,627.1V635.6M1175.6,627.1V635.6M1179.8,627.1V635.6M1184.0,627.1V639.9M1188.2,627.1V639.9M1192.4,627.1V639.9M1196.6,627.1V639.9M1200.9,627.1V639.9M1205.1,627.1V639.9M1209.3,627.1V639.9M1213.5,627.1V639.9M1217.7,627.1V639.9M1221.9,627.1V639.9M1226.1,627.1V639.9M1230.4,627.1V639.9M1234.6,627.1V639.9M1238.8,627.1V639.9M1243.0,627.1V639.9M1247.2,627.1V639.9M1251.4,627.1V639.9M1255.6,627.1V639.9M1259.9,627.1V639.9M1264.1,627.1V639.9M1268.3,627.1V639.9M1272.5,627.1V639.9M1276.7,627.1V639.9M1280.9,627.1V639.9M1285.2,627.1V639.9M1289.4,631.4V639.9M1293.6,631.4V639.9M1297.8,631.4V644.2M1302.0,631.4V644.2M1306.2,631.4V644.2M1310.4,631.4V644.2M1314.7,631.4V644.2M1318.9,631.4V644.2M1323.1,631.4V644.2M1327.3,631.4V644.2M1331.5,631.4V644.2M1335.7,631.4V644.2M1339.9,631.4V644.2M1344.2,631.4V644.2M1348.4,635.6V644.2M1352.6,635.6V644.2M1356.8,635.6V648.5M1361.0,635.6V648.5M1365.2,635.6V648.5M1369.5,635.6V648.5M1373.7,635.6V648.5M1377.9,635.6V648.5M1382.1,635.6V648.5M1386.3,635.6V648.5M1390.5,635.6V648.5M1394.7,639.9V648.5M1399.0,639.9V652.7M1403.2,639.9V652.7M1407.4,639.9V652.7M1411.6,639.9V652.7M1415.8,639.9V652.7M1420.0,639.9V657.0M1424.2,644.2V657.0M1428.5,644.2V657.0M1432.7,644.2V657.0M1436.9,644.2V661.3M1441.1,648.5V661.3M1445.3,652.7V661.3M1449.5,652.7V665.6M1453.8,657.0V665.6M1458.0,661.3V669.9M1462.2,661.3V674.1M1466.4,665.6V678.4M1470.6,669.9V682.7M1474.8,674.1V687.0M1479.0,678.4V695.5M1483.3,687.0V699.8M1487.5,691.2V704.1M1491.7,695.5V708.4M1495.9,704.1V716.9M1500.1,708.4V721.2M1504.3,716.9V729.7M1508.5,725.5V738.3M1512.8,734.0V742.6M1517.0,738.3V746.9M1521.2,742.6V751.1M1525.4,746.9V755.4M1529.6,751.1V759.7M1533.8,755.4V764.0M1538.1,759.7V772.5M1542.3,768.2V776.8M1546.5,776.8V785.4M1550.7,781.1V793.9M1554.9,789.6V802.5M1559.1,798.2V811.0M1563.3,806.8V819.6M1567.6,815.3V828.1M1571.8,823.9V836.7M1576.0,832.4V845.3M1580.2,841.0V853.8M1584.4,849.5V866.6M1588.6,862.4V875.2M1592.8,870.9V883.8M1597.1,879.5V892.3M1601.3,888.0V905.1M1605.5,900.9V918.0M1609.7,913.7V926.5" stroke="#ff00ff" stroke-width="4.5"/>
<polyline points="113.4,1181.5 699.3,1181.5 699.3,1177.2 720.3,1177.2 720.3,1172.9 758.3,1172.9 758.3,1168.7 796.2,1168.7 796.2,1164.4 834.1,1164.4 834.1,1160.1 859.4,1160.1 859.4,1155.8 880.5,1155.8 880.5,1151.6 901.6,1151.6 901.6,1147.3 922.7,1147.3 922.7,1143.0 943.7,1143.0 943.7,1138.7 964.8,1138.7 964.8,1134.4 985.9,1134.4 990.1,1130.2 1011.2,1130.2 1011.2,1125.9 1040.7,1125.9 1040.7,1121.6 1070.2,1121.6 1070.2,1117.3 1129.2,1117.3 1129.2,1113.1 1196.6,1113.1 1200.9,1117.3 1264.1,1117.3 1268.3,1121.6 1297.8,1121.6 1297.8,1125.9 1323.1,1125.9 1323.1,1130.2 1352.6,1130.2 1352.6,1134.4 1382.1,1134.4 1382.1,1138.7 1407.4,1138.7 1407.4,1143.0 1432.7,1143.0 1432.7,1147.3 1458.0,1147.3 1458.0,1151.6 1479.0,1151.6 1479.0,1155.8 1500.1,1155.8 1500.1,1160.1 1542.3,1160.1 1542.3,1164.4 1563.3,1164.4 1563.3,1168.7 1588.6,1168.7 1588.6,1172.9 1622.4,1172.9 1622.4,1177.2 1672.9,1177.2 1677.1,1181.5 2035.4,1181.5" stroke="#808080" stroke-width="4" />
<path d="M703.5,1177.2V1177.2M707.7,1177.2V1177.2M711.9,1177.2V1177.2M716.1,1172.9V1177.2M720.3,1172.9V1177.2M724.6,1172.9V1177.2M728.8,1172.9V1172.9M733.0,1172.9V1172.9M737.2,1172.9V1172.9M741.4,1172.9V1172.9M745.6,1172.9V1172.9M749.9,1172.9V1172.9M754.1,1168.7V1172.9M758.3,1168.7V1172.9M762.5,1168.7V1172.9M766.7,1168.7V1168.7M770.9,1168.7V1168.7M775.1,1168.7V1168.7M779.4,1168.7V1168.7M783.6,1168.7V1168.7M787.8,1164.4V1168.7M792.0,1164.4V1168.7M796.2,1164.4V1168.7M800.4,1164.4V1168.7M804.6,1164.4V1164.4M808.9,1164.4V1164.4M813.1,1164.4V1164.4M817.3,1164.4V1164.4M821.5,1164.4V1164.4M825.7,1164.4V1164.4M829.9,1160.1V1164.4M834.1,1160.1V1164.4M838.4,1160.1V1164.4M842.6,1160.1V1160.1M846.8,1160.1V1160.1M851.0,1160.1V1160.1M855.2,1155.8V1160.1M859.4,1155.8V1160.1M863.7,1155.8V1160.1M867.9,1155.8V1155.8M872.1,1155.8V1155.8M876.3,1155.8V1155.8M880.5,1151.6V1155.8M884.7,1151.6V1155.8M888.9,1151.6V1151.6M893.2,1151.6V1151.6M897.4,1147.3V1151.6M901.6,1147.3V1151.6M905.8,1147.3V1147.3M910.0,1147.3V1147.3M914.2,1147.3V1147.3M918.5,1143.0V1147.3M922.7,1143.0V1147.3M926.9,1143.0V1143.0M931.1,1143.0V1143.0M935.3,1143.0V1143.0M939.5,1138.7V1143.0M943.7,1138.7V1143.0M948.0,1138.7V1143.0M952.2,1138.7V1138.7M956.4,1138.7V1138.7M960.6,1134.4V1138.7M964.8,1134.4V1138.7M969.0,1134.4V1138.7M973.2,1134.4V1134.4M977.5,1134.4V1134.4M981.7,1134.4V1134.4M985.9,1130.2V1134.4M990.1,1130.2V1134.4M994.3,1130.2V1130.2M998.5,1130.2V1130.2M1002.8,1130.2V1130.2M1007.0,1130.2V1130.2M1011.2,1125.9V1130.2M1015.4,1125.9V1130.2M1019.6,1125.9V1125.9M1023.8,1125.9V1125.9M1028.0,1125.9V1125.9M1032.3,1125.9V1125.9M1036.5,1121.6V1125.9M1040.7,1121.6V1125.9M1044.9,1121.6V1125.9M1049.1,1121.6V1121.6M1053.3,1121.6V1121.6M1057.5,1121.6V1121.6M1061.8,1121.6V1121.6M1066.0,1117.3V1121.6M1070.2,1117.3V1121.6M1074.4,1117.3V1121.6M1078.6,1117.3V1117.3M1082.8,1117.3V1117.3M1087.0,1117.3V1117.3M1091.3,1117.3V1117.3M1095.5,1117.3V1117.3M1099.7,1117.3V1117.3M1103.9,1117.3V1117.3M1108.1,1117.3V1117.3M1112.3,1117.3V1117.3M1116.6,1117.3V1117.3M1120.8,1113.1V1117.3M1125.0,1113.1V1117.3M1129.2,1113.1V1117.3M1133.4,1113.1V1117.3M1137.6,1113.1V1117.3M1141.8,1113.1V1113.1M1146.1,1113.1V1113.1M1150.3,1113.1V1113.1M1154.5,1113.1V1113.1M1158.7,1113.1V1113.1M1162.9,1113.1V1113.1M1167.1,1113.1V1113.1M1171.3,1113.1V1117.3M1175.6,1113.1V1117.3M1179.8,1113.1V1117.3M1184.0,1113.1V1117.3M1188.2,1113.1V1117.3M1192.4,1113.1V1117.3M1196.6,1113.1V1117.3M1200.9,1113.1V1117.3M1205.1,1113.1V1117.3M1209.3,1113.1V1117.3M1213.5,1113.1V1117.3M1217.7,1113.1V1117.3M1221.9,1117.3V1117.3M1226.1,1117.3V1117.3M1230.4,1117.3V1117.3M1234.6,1117.3V1117.3M1238.8,1117.3V1117.3M1243.0,1117.3V1117.3M1247.2,1117.3V1117.3M1251.4,1117.3V1117.3M1255.6,1117.3V1117.3M1259.9,1117.3V1121.6M1264.1,1117.3V1121.6M1268.3,1117.3V1121.6M1272.5,1117.3V1121.6M1276.7,1121.6V1121.6M1280.9,1121.6V1121.6M1285.2,1121.6V1121.6M1289.4,1121.6V1121.6M1293.6,1121.6V1125.9M1297.8,1121.6V1125.9M1302.0,1121.6V1125.9M1306.2,1125.9V1125.9M1310.4,1125.9V1125.9M1314.7,1125.9V1125.9M1318.9,1125.9V1130.2M1323.1,1125.9V1130.2M1327.3,1125.9V1130.2M1331.5,1130.2V1130.2M1335.7,1130.2V1130.2M1339.9,1130.2V1130.2M1344.2,1130.2V1130.2M1348.4,1130.2V1134.4M1352.6,1130.2V1134.4M1356.8,1130.2V1134.4M1361.0,1134.4V1134.4M1365.2,1134.4V1134.4M1369.5,1134.4V1134.4M1373.7,1134.4V1134.4M1377.9,1134.4V1138.7M1382.1,1134.4V1138.7M1386.3,1134.4V1138.7M1390.5,1138.7V1138.7M1394.7,1138.7V1138.7M1399.0,1138.7V1138.7M1403.2,1138.7V1138.7M1407.4,1138.7V1143.0M1411.6,1138.7V1143.0M1415.8,1143.0V1143.0M1420.0,1143.0V1143.0M1424.2,1143.0V1143.0M1428.5,1143.0V1147.3M1432.7,1143.0V1147.3M1436.9,1143.0V1147.3M1441.1,1147.3V1147.3M1445.3,1147.3V1147.3M1449.5,1147.3V1147.3M1453.8,1147.3V1151.6M1458.0,1147.3V1151.6M1462.2,1151.6V1151.6M1466.4,1151.6V1151.6M1470.6,1151.6V1151.6M1474.8,1151.6V1155.8M1479.0,1151.6V1155.8M1483.3,1155.8V1155.8M1487.5,1155.8V1155.8M1491.7,1155.8V1155.8M1495.9,1155.8V1160.1M1500.1,1155.8V1160.1M1504.3,1155.8V1160.1M1508.5,1160.1V1160.1M1512.8,1160.1V1160.1M1517.0,1160.1V1160.1M1521.2,1160.1V1160.1M1525.4,1160.1V1160.1M1529.6,1160.1V1160.1M1533.8,1160.1V1160.1M1538.1,1160.1V1164.4M1542.3,1160.1V1164.4M1546.5,1160.1V1164.4M1550.7,1164.4V1164.4M1554.9,1164.4V1164.4M1559.1,1164.4V1168.7M1563.3,1164.4V1168.7M1567.6,1168.7V1168.7M1571.8,1168.7V1168.7M1576.0,1168.7V1168.7M1580.2,1168.7V1168.7M1584.4,1168.7V1172.9M1588.6,1168.7V1172.9M1592.8,1168.7V1172.9M1597.1,1172.9V1172.9M1601.3,1172.9V1172.9M1605.5,1172.9V1172.9M1609.7,1172.9V1172.9M1613.9,1172.9V1177.2M1618.1,1172.9V1177.2M1622.4,1172.9V1177.2M1626.6,1172.9V1177.2M1630.8,1172.9V1177.2M1635.0,1177.2V1177.2M1639.2,1177.2V1177.2M1643.4,1177.2V1177.2M1647.6,1177.2V1177.2M1651.9,1177.2V1177.2M1656.1,1177.2V1177.2M1660.3,1177.2V1177.2M1664.5,1177.2V1177.2M1668.7,1177.2V1181.5M1672.9,1177.2V1181.5M1677.1,1177.2V1181.5M1681.4,1177.2V1181.5M1685.6,1181.5V1181.5M1689.8,1181.5V1181.5M1694.0,1181.5V1181.5M1698.2,1181.5V1181.5" stroke="#808080" stroke-width="4.5"/>
<polyline points="640.3,1181.5 657.1,1181.5 657.1,1177.2 678.2,1177.2 678.2,1172.9 686.6,1172.9 686.6,1168.7 695.1,1168.7 695.1,1164.4 703.5,1164.4 703.5,1160.1 711.9,1160.1 711.9,1155.8 720.3,1155.8 720.3,1151.6 728.8,1151.6 728.8,1147.3 737.2,1147.3 737.2,1143.0 749.9,1143.0 749.9,1138.7 758.3,1138.7 758.3,1134.4 766.7,1134.4 766.7,1130.2 775.1,1130.2 775.1,1125.9 783.6,1125.9 783.6,1121.6 787.8,1121.6 787.8,1117.3 796.2,1117.3 796.2,1113.1 800.4,1113.1 800.4,1108.8 808.9,1108.8 808.9,1104.5 813.1,1104.5 813.1,1100.2 821.5,1100.2 821.5,1095.9 829.9,1095.9 829.9,1091.7 838.4,1091.7 838.4,1087.4 842.6,1087.4 842.6,1083.1 851.0,1083.1 851.0,1078.8 859.4,1078.8 859.4,1074.6 863.7,1074.6 863.7,1070.3 872.1,1070.3 872.1,1066.0 880.5,1066.0 880.5,1061.7 884.7,1061.7 884.7,1057.4 893.2,1057.4 893.2,1053.2 901.6,1053.2 901.6,1048.9 905.8,1048.9 910.0,1044.6 914.2,1044.6 914.2,1040.3 922.7,1040.3 922.7,1036.0 931.1,1036.0 931.1,1031.8 939.5,1031.8 939.5,1027.5 948.0,1027.5 948.0,1023.2 956.4,1023.2 956.4,1018.9 964.8,1018.9 964.8,1014.7 973.2,1014.7 973.2,1010.4 981.7,1010.4 981.7,1006.1 990.1,1006.1 990.1,1001.8 998.5,1001.8 998.5,997.5 1011.2,997.5 1011.2,993.3 1023.8,993.3 1023.8,989.0 1040.7,989.0 1040.7,984.7 1057.5,984.7 1057.5,980.4 1074.4,980.4 1074.4,976.2 1103.9,976.2 1108.1,971.9 1137.6,971.9 1141.8,967.6 1171.3,967.6 1171.3,971.9 1234.6,971.9 1234.6,976.2 1251.4,976.2 1251.4,980.4 1268.3,980.4 1268.3,984.7 1280.9,984.7 1280.9,989.0 1293.6,989.0 1297.8,993.3 1310.4,993.3 1310.4,997.5 1323.1,997.5 1323.1,1001.8 1335.7,1001.8 1335.7,1006.1 1348.4,1006.1 1348.4,1010.4 1361.0,1010.4 1361.0,1014.7 1373.7,1014.7 1373.7,1018.9 1386.3,1018.9 1386.3,1023.2 1394.7,1023.2 1394.7,1027.5 1403.2,1027.5 1403.2,1031.8 1411.6,1031.8 1415.8,1036.0 1420.0,1036.0 1424.2,1040.3 1428.5,1040.3 1432.7,1044.6 1436.9,1044.6 1441.1,1048.9 1449.5,1048.9 1449.5,1053.2 1458.0,1053.2 1458.0,1057.4 1466.4,1057.4 1466.4,1061.7 1474.8,1061.7 1474.8,1066.0 1483.3,1066.0 1483.3,1070.3 1491.7,1070.3 1491.7,1074.6 1500.1,1074.6 1500.1,1078.8 1508.5,1078.8 1508.5,1083.1 1512.8,1083.1 1512.8,1087.4 1521.2,1087.4 1521.2,1091.7 1529.6,1091.7 1529.6,1095.9 1538.1,1095.9 1538.1,1100.2 1546.5,1100.2 1546.5,1104.5 1554.9,1104.5 1554.9,1108.8 1559.1,1108.8 1559.1,1113.1 1567.6,1113.1 1567.6,1117.3 1571.8,1117.3 1571.8,1121.6 1580.2,1121.6 1580.2,1125.9 1588.6,1125.9 1588.6,1130.2 1592.8,1130.2 1592.8,1134.4 1601.3,1134.4 1601.3,1138.7 1605.5,1138.7 1605.5,1143.0 1613.9,1143.0 1613.9,1147.3 1622.4,1147.3 1622.4,1151.6 1630.8,1151.6 1630.8,1155.8 1639.2,1155.8 1639.2,1160.1 1647.6,1160.1 1647.6,1164.4 1664.5,1164.4 1664.5,1168.7 1677.1,1168.7 1677.1,1172.9 1698.2,1172.9 1698.2,1177.2 1727.7,1177.2 1731.9,1181.5 1748.8,1181.5" stroke="#808080" stroke-width="4.2" />
<path d="M652.9,1177.2V1181.5M657.1,1177.2V1181.5M661.3,1177.2V1177.2M665.5,1177.2V1177.2M669.8,1177.2V1177.2M674.0,1177.2V1177.2M678.2,1172.9V1177.2M682.4,1172.9V1172.9M686.6,1168.7V1172.9M690.8,1168.7V1168.7M695.1,1164.4V1168.7M699.3,1164.4V1164.4M703.5,1160.1V1164.4M707.7,1160.1V1160.1M711.9,1155.8V1160.1M716.1,1155.8V1155.8M720.3,1151.6V1155.8M724.6,1151.6V1151.6M728.8,1147.3V1151.6M733.0,1147.3V1147.3M737.2,1143.0V1147.3M741.4,1143.0V1147.3M745.6,1138.7V1143.0M749.9,1138.7V1143.0M754.1,1138.7V1138.7M758.3,1134.4V1138.7M762.5,1134.4V1134.4M766.7,1130.2V1134.4M770.9,1130.2V1130.2M775.1,1125.9V1130.2M779.4,1121.6V1125.9M783.6,1121.6V1125.9M787.8,1117.3V1121.6M792.0,1117.3V1117.3M796.2,1113.1V1117.3M800.4,1108.8V1113.1M804.6,1108.8V1108.8M808.9,1104.5V1108.8M813.1,1100.2V1104.5M817.3,1100.2V1104.5M821.5,1095.9V1100.2M825.7,1095.9V1095.9M829.9,1091.7V1095.9M834.1,1087.4V1091.7M838.4,1087.4V1091.7M842.6,1083.1V1087.4M846.8,1083.1V1087.4M851.0,1078.8V1083.1M855.2,1078.8V1078.8M859.4,1074.6V1078.8M863.7,1070.3V1074.6M867.9,1070.3V1074.6M872.1,1066.0V1070.3M876.3,1061.7V1066.0M880.5,1061.7V1066.0M884.7,1057.4V1061.7M888.9,1057.4V1057.4M893.2,1053.2V1057.4M897.4,1048.9V1053.2M901.6,1048.9V1053.2M905.8,1044.6V1048.9M910.0,1044.6V1048.9M914.2,1040.3V1044.6M918.5,1040.3V1040.3M922.7,1036.0V1040.3M926.9,1036.0V1036.0M931.1,1031.8V1036.0M935.3,1031.8V1031.8M939.5,1027.5V1031.8M943.7,1027.5V1027.5M948.0,1023.2V1027.5M952.2,1023.2V1023.2M956.4,1018.9V1023.2M960.6,1018.9V1018.9M964.8,1014.7V1018.9M969.0,1014.7V1014.7M973.2,1010.4V1014.7M977.5,1010.4V1010.4M981.7,1006.1V1010.4M985.9,1006.1V1006.1M990.1,1001.8V1006.1M994.3,1001.8V1001.8M998.5,997.5V1001.8M1002.8,997.5V1001.8M1007.0,997.5V997.5M1011.2,993.3V997.5M1015.4,993.3V997.5M1019.6,993.3V993.3M1023.8,989.0V993.3M1028.0,989.0V993.3M1032.3,989.0V989.0M1036.5,984.7V989.0M1040.7,984.7V989.0M1044.9,984.7V984.7M1049.1,984.7V984.7M1053.3,980.4V984.7M1057.5,980.4V984.7M1061.8,980.4V980.4M1066.0,980.4V980.4M1070.2,980.4V980.4M1074.4,976.2V980.4M1078.6,976.2V980.4M1082.8,976.2V976.2M1087.0,976.2V976.2M1091.3,976.2V976.2M1095.5,976.2V976.2M1099.7,971.9V976.2M1103.9,971.9V976.2M1108.1,971.9V976.2M1112.3,971.9V976.2M1116.6,971.9V971.9M1120.8,971.9V971.9M1125.0,971.9V971.9M1129.2,971.9V971.9M1133.4,971.9V971.9M1137.6,967.6V971.9M1141.8,967.6V971.9M1146.1,967.6V967.6M1150.3,967.6V967.6M1154.5,967.6V967.6M1158.7,967.6V967.6M1162.9,967.6V971.9M1167.1,967.6V971.9M1171.3,967.6V971.9M1175.6,967.6V971.9M1179.8,967.6V971.9M1184.0,967.6V971.9M1188.2,971.9V971.9M1192.4,971.9V971.9M1196.6,971.9V971.9M1200.9,971.9V971.9M1205.1,971.9V971.9M1209.3,971.9V971.9M1213.5,971.9V971.9M1217.7,971.9V971.9M1221.9,971.9V971.9M1226.1,971.9V971.9M1230.4,971.9V971.9M1234.6,971.9V976.2M1238.8,971.9V976.2M1243.0,976.2V976.2M1247.2,976.2V976.2M1251.4,976.2V980.4M1255.6,976.2V980.4M1259.9,980.4V980.4M1264.1,980.4V984.7M1268.3,980.4V984.7M1272.5,984.7V984.7M1276.7,984.7V984.7M1280.9,984.7V989.0M1285.2,989.0V989.0M1289.4,989.0V989.0M1293.6,989.0V993.3M1297.8,989.0V993.3M1302.0,993.3V993.3M1306.2,993.3V997.5M1310.4,993.3V997.5M1314.7,997.5V997.5M1318.9,997.5V1001.8M1323.1,997.5V1001.8M1327.3,1001.8V1001.8M1331.5,1001.8V1006.1M1335.7,1001.8V1006.1M1339.9,1006.1V1006.1M1344.2,1006.1V1006.1M1348.4,1006.1V1010.4M1352.6,1010.4V1010.4M1356.8,1010.4V1010.4M1361.0,1010.4V1014.7M1365.2,1014.7V1014.7M1369.5,1014.7V1014.7M1373.7,1014.7V1018.9M1377.9,1018.9V1018.9M1382.1,1018.9V1023.2M1386.3,1018.9V1023.2M1390.5,1023.2V1023.2M1394.7,1023.2V1027.5M1399.0,1027.5V1027.5M1403.2,1027.5V1031.8M1407.4,1027.5V1031.8M1411.6,1031.8V1036.0M1415.8,1031.8V1036.0M1420.0,1036.0V1040.3M1424.2,1036.0V1040.3M1428.5,1040.3V1044.6M1432.7,1040.3V1044.6M1436.9,1044.6V1048.9M1441.1,1044.6V1048.9M1445.3,1048.9V1053.2M1449.5,1048.9V1053.2M1453.8,1053.2V1057.4M1458.0,1053.2V1057.4M1462.2,1057.4V1061.7M1466.4,1057.4V1061.7M1470.6,1061.7V1061.7M1474.8,1061.7V1066.0M1479.0,1066.0V1066.0M1483.3,1066.0V1070.3M1487.5,1070.3V1070.3M1491.7,1070.3V1074.6M1495.9,1074.6V1074.6M1500.1,1074.6V1078.8M1504.3,1078.8V1083.1M1508.5,1078.8V1083.1M1512.8,1083.1V1087.4M1517.0,1083.1V1087.4M1521.2,1087.4V1091.7M1525.4,1087.4V1091.7M1529.6,1091.7V1095.9M1533.8,1095.9V1095.9M1538.1,1095.9V1100.2M1542.3,1100.2V1100.2M1546.5,1100.2V1104.5M1550.7,1104.5V1108.8M1554.9,1104.5V1108.8M1559.1,1108.8V1113.1M1563.3,1113.1V1113.1M1567.6,1113.1V1117.3M1571.8,1117.3V1121.6M1576.0,1117.3V1121.6M1580.2,1121.6V1125.9M1584.4,1125.9V1130.2M1588.6,1125.9V1130.2M1592.8,1130.2V1134.4M1597.1,1134.4V1134.4M1601.3,1134.4V1138.7M1605.5,1138.7V1143.0M1609.7,1143.0V1143.0M1613.9,1143.0V1147.3M1618.1,1147.3V1147.3M1622.4,1147.3V1151.6M1626.6,1151.6V1151.6M1630.8,1151.6V1155.8M1635.0,1155.8V1155.8M1639.2,1155.8V1160.1M1643.4,1160.1V1160.1M1647.6,1160.1V1164.4M1651.9,1160.1V1164.4M1656.1,1164.4V1164.4M1660.3,1164.4V1168.7M1664.5,1164.4V1168.7M1668.7,1168.7V1168.7M1672.9,1168.7V1168.7M1677.1,1168.7V1172.9M1681.4,1168.7V1172.9M1685.6,1172.9V1172.9M1689.8,1172.9V1172.9M1694.0,1172.9V1172.9M1698.2,1172.9V1177.2M1702.4,1172.9V1177.2M1706.7,1177.2V1177.2M1710.9,1177.2V1177.2M1715.1,1177.2V1177.2M1719.3,1177.2V1177.2M1723.5,1177.2V1181.5M1727.7,1177.2V1181.5M1731.9,1177.2V1181.5M1736.2,1177.2V1181.5M1740.4,1181.5V1181.5M1744.6,1181.5V1181.5M1748.8,1181.5V1181.5" stroke="#808080" stroke-width="4.5"/>
<polyline points="640.3,1117.3 640.3,1147.3 644.5,1147.3 644.5,1143.0 648.7,1143.0 652.9,1138.7 657.1,1138.7 657.1,1134.4 665.5,1134.4 665.5,1130.2 669.8,1130.2 669.8,1125.9 674.0,1125.9 674.0,1121.6 678.2,1121.6 678.2,1095.9 682.4,1095.9 682.4,1078.8 686.6,1078.8 686.6,1061.7 690.8,1061.7 690.8,1044.6 695.1,1044.6 695.1,1036.0 699.3,1031.8 699.3,1023.2 703.5,1023.2 703.5,1010.4 707.7,1010.4 707.7,993.3 711.9,993.3 711.9,980.4 716.1,980.4 716.1,963.3 720.3,963.3 720.3,946.2 724.6,946.2 724.6,929.1 728.8,929.1 728.8,920.5 733.0,920.5 733.0,907.7 737.2,907.7 737.2,890.6 741.4,890.6 741.4,873.5 745.6,873.5 745.6,860.7 749.9,860.7 749.9,839.3 754.1,839.3 754.1,822.1 758.3,822.1 758.3,800.8 762.5,800.8 762.5,779.4 766.7,775.1 766.7,758.0 770.9,758.0 770.9,740.9 775.1,740.9 775.1,715.2 779.4,715.2 779.4,698.1 783.6,698.1 783.6,676.7 787.8,676.7 787.8,646.8 792.0,642.5 792.0,621.1 796.2,621.1 796.2,604.0 800.4,604.0 800.4,582.6 804.6,582.6 804.6,561.2 808.9,561.2 808.9,535.5 813.1,535.5 813.1,514.1 817.3,514.1 817.3,492.7 821.5,492.7 821.5,462.8 825.7,462.8 825.7,445.7 829.9,445.7 829.9,424.3 834.1,424.3 834.1,407.2 838.4,407.2 838.4,385.8 842.6,385.8 842.6,368.7 846.8,368.7 846.8,355.8 851.0,355.8 851.0,347.3 855.2,347.3 855.2,334.5 859.4,334.5 859.4,325.9 863.7,321.6 863.7,313.1 867.9,313.1 867.9,304.5 872.1,304.5 872.1,300.2 876.3,300.2 876.3,291.7 880.5,291.7 880.5,287.4 884.7,287.4 884.7,278.8 888.9,278.8 888.9,274.6 893.2,274.6 893.2,270.3 897.4,270.3 897.4,266.0 901.6,266.0 901.6,261.7 905.8,261.7 905.8,257.5 914.2,257.5 914.2,253.2 922.7,253.2 922.7,248.9 935.3,248.9 935.3,244.6" stroke="#808080" stroke-width="4" />
<polyline points="931.1,248.9 935.3,248.9 935.3,244.6 943.7,244.6 943.7,240.3 956.4,240.3 956.4,236.1 973.2,236.1 973.2,231.8 994.3,231.8 994.3,227.5 1028.0,227.5 1028.0,223.2 1053.3,223.2" stroke="#808080" stroke-width="4.5" stroke-dasharray="20 5" stroke-linecap="butt"/>
<polyline points="1053.3,223.2 1276.7,223.2" stroke="#808080" stroke-width="7" />
<polyline points="1276.7,223.2 1302.0,223.2 1302.0,227.5 1323.1,227.5 1323.1,231.8 1344.2,231.8 1344.2,236.1" stroke="#808080" stroke-width="4.5" stroke-dasharray="18 6" stroke-linecap="butt"/>
<polyline points="1344.2,236.1 1361.0,236.1 1361.0,240.3 1377.9,240.3 1377.9,244.6 1394.7,244.6 1394.7,248.9 1407.4,248.9 1407.4,253.2 1415.8,253.2 1415.8,257.5 1420.0,257.5 1420.0,261.7 1428.5,261.7 1428.5,266.0 1432.7,266.0 1432.7,270.3 1441.1,270.3 1441.1,274.6 1445.3,274.6 1445.3,278.8 1449.5,278.8 1449.5,283.1 1453.8,283.1 1453.8,287.4 1458.0,287.4 1462.2,291.7 1466.4,291.7 1466.4,296.0 1470.6,296.0 1470.6,304.5 1474.8,304.5 1474.8,313.1 1479.0,313.1 1479.0,317.3 1483.3,317.3 1483.3,325.9 1487.5,325.9 1487.5,330.2 1491.7,330.2 1491.7,343.0 1495.9,343.0 1495.9,351.6 1500.1,351.6 1500.1,364.4 1504.3,364.4 1504.3,373.0 1508.5,373.0 1508.5,385.8 1512.8,385.8 1512.8,398.6 1517.0,398.6 1517.0,411.5 1521.2,411.5 1521.2,428.6 1525.4,428.6 1525.4,445.7 1529.6,445.7 1529.6,467.1 1533.8,467.1 1533.8,484.2 1538.1,484.2 1538.1,505.6 1542.3,505.6 1542.3,518.4 1546.5,522.7 1546.5,539.8 1550.7,539.8 1550.7,561.2 1554.9,561.2 1554.9,582.6 1559.1,582.6 1559.1,608.2 1563.3,608.2 1563.3,625.4 1567.6,625.4 1567.6,646.8 1571.8,646.8 1571.8,676.7 1576.0,676.7 1576.0,693.8 1580.2,693.8 1580.2,715.2 1584.4,715.2 1584.4,745.1 1588.6,745.1 1588.6,766.5 1592.8,766.5 1592.8,792.2 1597.1,792.2 1597.1,813.6 1601.3,813.6 1601.3,839.3 1605.5,839.3 1605.5,860.7 1609.7,860.7 1609.7,877.8 1613.9,882.0 1613.9,903.4 1618.1,903.4 1618.1,924.8 1622.4,924.8 1622.4,946.2 1626.6,946.2 1626.6,971.9 1630.8,971.9 1630.8,993.3 1635.0,993.3 1635.0,1001.8 1639.2,1001.8 1639.2,1010.4 1643.4,1010.4 1643.4,1018.9 1647.6,1018.9 1647.6,1027.5 1651.9,1027.5 1651.9,1036.0 1656.1,1036.0 1656.1,1044.6 1660.3,1044.6 1660.3,1048.9 1664.5,1048.9 1664.5,1057.4 1668.7,1057.4 1668.7,1066.0 1672.9,1066.0 1672.9,1074.6 1677.1,1074.6 1677.1,1083.1 1681.4,1083.1 1681.4,1095.9 1685.6,1095.9 1685.6,1104.5 1689.8,1104.5 1689.8,1108.8 1694.0,1108.8 1694.0,1117.3 1698.2,1117.3 1698.2,1130.2 1702.4,1130.2 1702.4,1138.7 1706.7,1138.7 1706.7,1143.0 1710.9,1143.0 1710.9,1147.3 1715.1,1147.3 1715.1,1151.6 1719.3,1151.6 1719.3,1155.8 1731.9,1155.8 1731.9,1160.1 1740.4,1160.1 1740.4,1164.4 1757.2,1164.4 1757.2,1168.7 1769.9,1168.7 1769.9,1172.9 1782.5,1172.9 1782.5,1177.2 1799.4,1177.2 1799.4,1181.5" stroke="#808080" stroke-width="4.3" />
<path d="M640.3,1117.3V1147.3M644.5,1143.0V1147.3M648.7,1138.7V1147.3M652.9,1138.7V1143.0M657.1,1134.4V1138.7M661.3,1130.2V1134.4M665.5,1130.2V1134.4M669.8,1125.9V1130.2M674.0,1117.3V1125.9M678.2,1091.7V1121.6M682.4,1078.8V1095.9M686.6,1061.7V1078.8M690.8,1044.6V1061.7M695.1,1031.8V1048.9M699.3,1023.2V1036.0M703.5,1010.4V1027.5M707.7,989.0V1014.7M711.9,980.4V993.3M716.1,959.0V980.4M720.3,946.2V963.3M724.6,929.1V950.5M728.8,916.3V929.1M733.0,903.4V920.5M737.2,890.6V907.7M741.4,873.5V890.6M745.6,860.7V877.8M749.9,839.3V860.7M754.1,817.9V839.3M758.3,800.8V822.1M762.5,775.1V800.8M766.7,758.0V779.4M770.9,740.9V758.0M775.1,715.2V740.9M779.4,698.1V719.5M783.6,676.7V698.1M787.8,642.5V676.7M792.0,621.1V646.8M796.2,604.0V621.1M800.4,578.3V604.0M804.6,556.9V582.6M808.9,535.5V561.2M813.1,514.1V535.5M817.3,488.5V514.1M821.5,462.8V492.7M825.7,441.4V467.1M829.9,424.3V445.7M834.1,402.9V428.6M838.4,385.8V407.2M842.6,368.7V385.8M846.8,355.8V373.0M851.0,347.3V360.1M855.2,334.5V347.3M859.4,321.6V338.7M863.7,313.1V325.9M867.9,304.5V313.1M872.1,296.0V304.5M876.3,291.7V300.2M880.5,287.4V296.0M884.7,278.8V287.4M888.9,274.6V283.1M893.2,270.3V274.6M897.4,266.0V270.3M901.6,261.7V266.0M905.8,257.5V261.7M910.0,253.2V261.7M914.2,253.2V257.5M918.5,248.9V253.2M922.7,248.9V253.2M926.9,248.9V253.2M1348.4,231.8V236.1M1352.6,236.1V236.1M1356.8,236.1V240.3M1361.0,236.1V240.3M1365.2,236.1V240.3M1369.5,240.3V240.3M1373.7,240.3V244.6M1377.9,240.3V244.6M1382.1,240.3V244.6M1386.3,244.6V244.6M1390.5,244.6V248.9M1394.7,244.6V248.9M1399.0,244.6V248.9M1403.2,248.9V253.2M1407.4,248.9V253.2M1411.6,253.2V257.5M1415.8,253.2V257.5M1420.0,257.5V261.7M1424.2,257.5V261.7M1428.5,261.7V266.0M1432.7,266.0V270.3M1436.9,266.0V274.6M1441.1,270.3V274.6M1445.3,274.6V278.8M1449.5,278.8V283.1M1453.8,283.1V287.4M1458.0,283.1V291.7M1462.2,287.4V296.0M1466.4,291.7V300.2M1470.6,296.0V304.5M1474.8,304.5V313.1M1479.0,308.8V317.3M1483.3,317.3V325.9M1487.5,321.6V330.2M1491.7,330.2V343.0M1495.9,338.7V351.6M1500.1,351.6V364.4M1504.3,360.1V373.0M1508.5,373.0V385.8M1512.8,381.5V398.6M1517.0,394.3V411.5M1521.2,411.5V428.6M1525.4,424.3V450.0M1529.6,445.7V467.1M1533.8,462.8V484.2M1538.1,479.9V505.6M1542.3,501.3V522.7M1546.5,518.4V539.8M1550.7,539.8V561.2M1554.9,561.2V586.9M1559.1,582.6V608.2M1563.3,608.2V625.4M1567.6,625.4V646.8M1571.8,646.8V676.7M1576.0,672.4V698.1M1580.2,693.8V719.5M1584.4,715.2V745.1M1588.6,740.9V766.5M1592.8,762.3V792.2M1597.1,792.2V813.6M1601.3,813.6V839.3M1605.5,839.3V860.7M1609.7,860.7V882.0M1613.9,877.8V903.4M1618.1,903.4V924.8M1622.4,924.8V950.5M1626.6,946.2V976.2M1630.8,971.9V993.3M1635.0,989.0V1006.1M1639.2,1001.8V1010.4M1643.4,1010.4V1018.9M1647.6,1018.9V1027.5M1651.9,1027.5V1036.0M1656.1,1036.0V1044.6M1660.3,1040.3V1053.2M1664.5,1048.9V1061.7M1668.7,1057.4V1066.0M1672.9,1066.0V1074.6M1677.1,1074.6V1087.4M1681.4,1083.1V1095.9M1685.6,1095.9V1104.5M1689.8,1100.2V1113.1M1694.0,1108.8V1117.3M1698.2,1117.3V1130.2M1702.4,1125.9V1138.7M1706.7,1134.4V1147.3M1710.9,1143.0V1151.6M1715.1,1147.3V1151.6M1719.3,1151.6V1155.8M1723.5,1151.6V1155.8M1727.7,1155.8V1160.1M1731.9,1155.8V1160.1M1736.2,1160.1V1160.1M1740.4,1160.1V1164.4M1744.6,1160.1V1164.4M1748.8,1164.4V1164.4M1753.0,1164.4V1168.7M1757.2,1164.4V1168.7M1761.4,1164.4V1168.7M1765.7,1168.7V1172.9M1769.9,1168.7V1172.9M1774.1,1172.9V1172.9M1778.3,1172.9V1177.2M1782.5,1172.9V1177.2M1786.7,1172.9V1177.2M1791.0,1177.2V1177.2M1795.2,1177.2V1181.5M1799.4,1177.2V1181.5" stroke="#808080" stroke-width="4.5"/>
<polyline points="606.5,846.9 606.5,812.7 610.8,812.7 610.8,791.3 615.0,791.3 615.0,774.2 619.2,774.2 619.2,765.6 623.4,765.6 623.4,761.3 627.6,761.3 627.6,752.8 631.8,752.8 631.8,748.5 636.0,748.5 636.0,744.2 640.3,744.2 640.3,739.9 648.7,739.9 648.7,735.7 652.9,735.7 652.9,731.4 661.3,731.4 661.3,727.1 665.5,727.1 665.5,722.8 669.8,722.8 669.8,718.5 674.0,718.5 674.0,710.0 678.2,710.0 678.2,701.4 682.4,701.4 682.4,697.1 686.6,697.1 686.6,692.9 690.8,692.9 690.8,688.6 695.1,688.6 695.1,684.3 699.3,684.3" stroke="#969696" stroke-width="4.5" />
<path d="M606.5,812.7V846.9M610.8,791.3V812.7M615.0,774.2V791.3M619.2,765.6V774.2M623.4,761.3V765.6M627.6,752.8V761.3M631.8,748.5V757.0M636.0,744.2V748.5M640.3,739.9V744.2M644.5,735.7V744.2M648.7,735.7V739.9M652.9,731.4V735.7M657.1,727.1V731.4M661.3,727.1V731.4M665.5,722.8V727.1M669.8,714.3V722.8M674.0,710.0V718.5M678.2,701.4V710.0M682.4,697.1V705.7M686.6,692.9V697.1M690.8,688.6V692.9M695.1,684.3V688.6M699.3,680.0V684.3" stroke="#969696" stroke-width="4.5"/>
<polyline points="699.3,684.3 699.3,680.0 707.7,680.0 707.7,675.8 716.1,675.8 716.1,671.5 724.6,671.5 728.8,667.2 737.2,667.2 737.2,662.9 745.6,662.9 745.6,658.6 754.1,658.6 758.3,654.4 766.7,654.4 766.7,650.1 783.6,650.1 783.6,645.8 804.6,645.8 804.6,641.5 838.4,641.5 838.4,637.3 880.5,637.3 884.7,633.0 935.3,633.0 935.3,628.7 998.5,628.7" stroke="#969696" stroke-width="6.5" stroke-dasharray="9 3.5" stroke-linecap="butt"/>
<polyline points="994.3,628.7 1293.6,628.7" stroke="#969696" stroke-width="8" />
<polyline points="1289.4,628.7 1314.7,628.7 1314.7,633.0 1399.0,633.0 1399.0,637.3 1436.9,637.3 1436.9,641.5 1470.6,641.5 1470.6,645.8 1500.1,645.8 1500.1,650.1 1525.4,650.1 1525.4,654.4 1546.5,654.4 1546.5,658.6 1563.3,658.6 1563.3,662.9 1576.0,662.9 1576.0,667.2 1588.6,667.2 1588.6,671.5 1597.1,671.5 1597.1,675.8 1605.5,675.8 1605.5,680.0 1609.7,680.0 1609.7,684.3 1618.1,684.3 1618.1,688.6 1626.6,688.6 1626.6,692.9 1635.0,692.9 1635.0,697.1 1639.2,697.1" stroke="#969696" stroke-width="6.5" stroke-dasharray="16 6" stroke-linecap="butt"/>
<polyline points="1639.2,697.1 1647.6,697.1 1647.6,701.4 1656.1,701.4 1656.1,705.7 1668.7,705.7 1668.7,710.0 1672.9,710.0 1672.9,714.3 1677.1,714.3 1677.1,718.5 1681.4,718.5 1681.4,722.8 1685.6,722.8 1685.6,727.1 1689.8,727.1 1689.8,731.4 1694.0,731.4 1694.0,735.7 1698.2,739.9 1698.2,748.5 1702.4,748.5 1702.4,757.0 1706.7,757.0 1706.7,761.3 1710.9,761.3 1710.9,765.6 1719.3,765.6 1719.3,769.9 1723.5,769.9 1723.5,774.2 1727.7,774.2 1727.7,778.4 1731.9,778.4 1731.9,782.7 1736.2,782.7 1736.2,787.0 1740.4,787.0 1740.4,795.5 1744.6,795.5 1744.6,804.1 1748.8,804.1 1748.8,816.9 1753.0,816.9 1753.0,834.0 1757.2,834.0 1757.2,859.7 1761.4,859.7 1761.4,881.1" stroke="#969696" stroke-width="6.5" stroke-dasharray="12 3" stroke-linecap="butt"/>
<polyline points="640.8,1152.0 640.8,1176.0" stroke="#808080" stroke-width="4.6" stroke-dasharray="7 5.5" stroke-linecap="round"/>
<polyline points="591.3,1176.0 596.1,1100.0 597.3,980.0 599.7,940.6 600.4,892.5 602.1,868.4 604.5,845.0" stroke="#969696" stroke-width="4.8" stroke-dasharray="8.5 4" stroke-linecap="butt"/>
<polyline points="1762.3,880.0 1763.7,908.5 1767.6,940.0 1768.5,968.2 1771.4,1000.0 1771.4,1029.8 1776.2,1060.0 1777.2,1085.0 1781.0,1100.0 1783.9,1176.0" stroke="#969696" stroke-width="4.8" stroke-dasharray="13 5" stroke-linecap="butt"/>
<polyline points="111.7,1175.8 700.0,1175.8" stroke="#969696" stroke-width="5.5" stroke-dasharray="3.5 8.96" stroke-linecap="round"/>
<polyline points="1786.0,1175.8 2035.0,1175.8" stroke="#969696" stroke-width="5.5" stroke-dasharray="3.5 8.96" stroke-linecap="round"/>
<polyline points="1792.0,1177.6 2035.0,1177.6" stroke="#969696" stroke-width="4.5" stroke-dasharray="3.5 8.96" stroke-linecap="round"/>

</g>
<g fill="none">
<line x1="646.6" y1="347.2" x2="819.5" y2="347.2" stroke="#4676bf" stroke-width="3"/><polyline points="807.6,352.7 819.5,347.2 807.6,341.7" stroke="#4676bf" stroke-width="3" stroke-linejoin="miter" stroke-linecap="round"/>
<line x1="457.8" y1="718.3" x2="629.5" y2="718.3" stroke="#4676bf" stroke-width="3"/><polyline points="617.6,723.8 629.5,718.3 617.6,712.8" stroke="#4676bf" stroke-width="3" stroke-linejoin="miter" stroke-linecap="round"/>
<line x1="465.3" y1="1005.4" x2="919.5" y2="1005.4" stroke="#4676bf" stroke-width="3"/><polyline points="907.6,1010.9 919.5,1005.4 907.6,999.9" stroke="#4676bf" stroke-width="3" stroke-linejoin="miter" stroke-linecap="round"/>
<line x1="466.6" y1="1077.6" x2="827.5" y2="1134.2" stroke="#4676bf" stroke-width="3"/><polyline points="814.9,1137.8 827.5,1134.2 816.6,1126.9" stroke="#4676bf" stroke-width="3" stroke-linejoin="miter" stroke-linecap="round"/>

</g>
<g>
<text transform="translate(89.6,73.2) scale(1,1.02)" text-anchor="end" font-size="47">550</text><text transform="translate(89.6,295.3) scale(1,1.02)" text-anchor="end" font-size="47">440</text><text transform="translate(89.6,522.2) scale(1,1.02)" text-anchor="end" font-size="47">330</text><text transform="translate(89.6,745.1) scale(1,1.02)" text-anchor="end" font-size="47">220</text><text transform="translate(89.6,971.7) scale(1,1.02)" text-anchor="end" font-size="47">110</text><text transform="translate(85.0,1193.9) scale(1,1.02)" text-anchor="end" font-size="47">0</text><text transform="translate(85.2,167.5) scale(1,1.02)" text-anchor="end" font-size="47">[V]</text><text transform="translate(115.3,1244.8) scale(1,1.015)" text-anchor="middle" font-size="47">0.0</text><text transform="translate(435.6,1244.8) scale(1,1.015)" text-anchor="middle" font-size="47">0.4</text><text transform="translate(756.2,1244.8) scale(1,1.015)" text-anchor="middle" font-size="47">0.8</text><text transform="translate(1076.9,1244.8) scale(1,1.015)" text-anchor="middle" font-size="47">1.2</text><text transform="translate(1392.6,1244.8) scale(1,1.015)" text-anchor="middle" font-size="47">1.6</text><text transform="translate(1712.7,1244.8) scale(1,1.015)" text-anchor="middle" font-size="47">2.0</text><text transform="translate(2033.2,1244.8) scale(1,1.015)" text-anchor="middle" font-size="47">2.4</text><text transform="translate(1871,1244.0) scale(1,1.0)" text-anchor="middle" font-size="47">[s]</text><text x="22.5" y="1284.2" font-size="38.7">(file mode6.pl4; x-var t)</text><text transform="translate(431.4,1291.6) scale(1,1.04)" font-size="38.7" style="fill:#ff00ff">v:RTPV_V-</text><text transform="translate(667.7,1291.6) scale(1,1.04)" font-size="38.7" style="fill:#008000">v:BIPV_V-</text><text transform="translate(858.7,1291.6) scale(1,1.04)" font-size="38.7" style="fill:#0000ff">v:RTConv_V-XX0067</text><text transform="translate(1234.9,1291.6) scale(1,1.04)" font-size="38.7" style="fill:#ff0000">v:BIConv_V-XX0057</text><text transform="translate(1615.8,1291.6) scale(1,1.04)" font-size="38.7" style="fill:#ffcc00">m:BIPV_I[A]</text><text transform="translate(1852.7,1291.6) scale(1,1.04)" font-size="38.7" style="fill:#00ccff">m:RTPV_I[A]</text><text transform="translate(325.1,356.1) scale(1,1.03)" font-size="35.9" style='font-family:"Noto Sans CJK KR", "NanumGothic", sans-serif;font-weight:350;word-spacing:5.5px'>BIPV_V MPPT line</text><text transform="translate(143.4,735.5) scale(1,1.03)" font-size="35.9" style='font-family:"Noto Sans CJK KR", "NanumGothic", sans-serif;font-weight:350;word-spacing:5.5px'>RTPV_V MPPT line</text><text transform="translate(138.4,1013) scale(1,1.03)" font-size="35.9" style='font-family:"Noto Sans CJK KR", "NanumGothic", sans-serif;font-weight:350;word-spacing:5.5px'>BIPV_I MPPT line</text><text transform="translate(138.4,1092.1) scale(1,1.03)" font-size="35.9" style='font-family:"Noto Sans CJK KR", "NanumGothic", sans-serif;font-weight:350;word-spacing:5.5px'>RTPV_I MPPT line</text>
</g>
</svg>
</body></html>
